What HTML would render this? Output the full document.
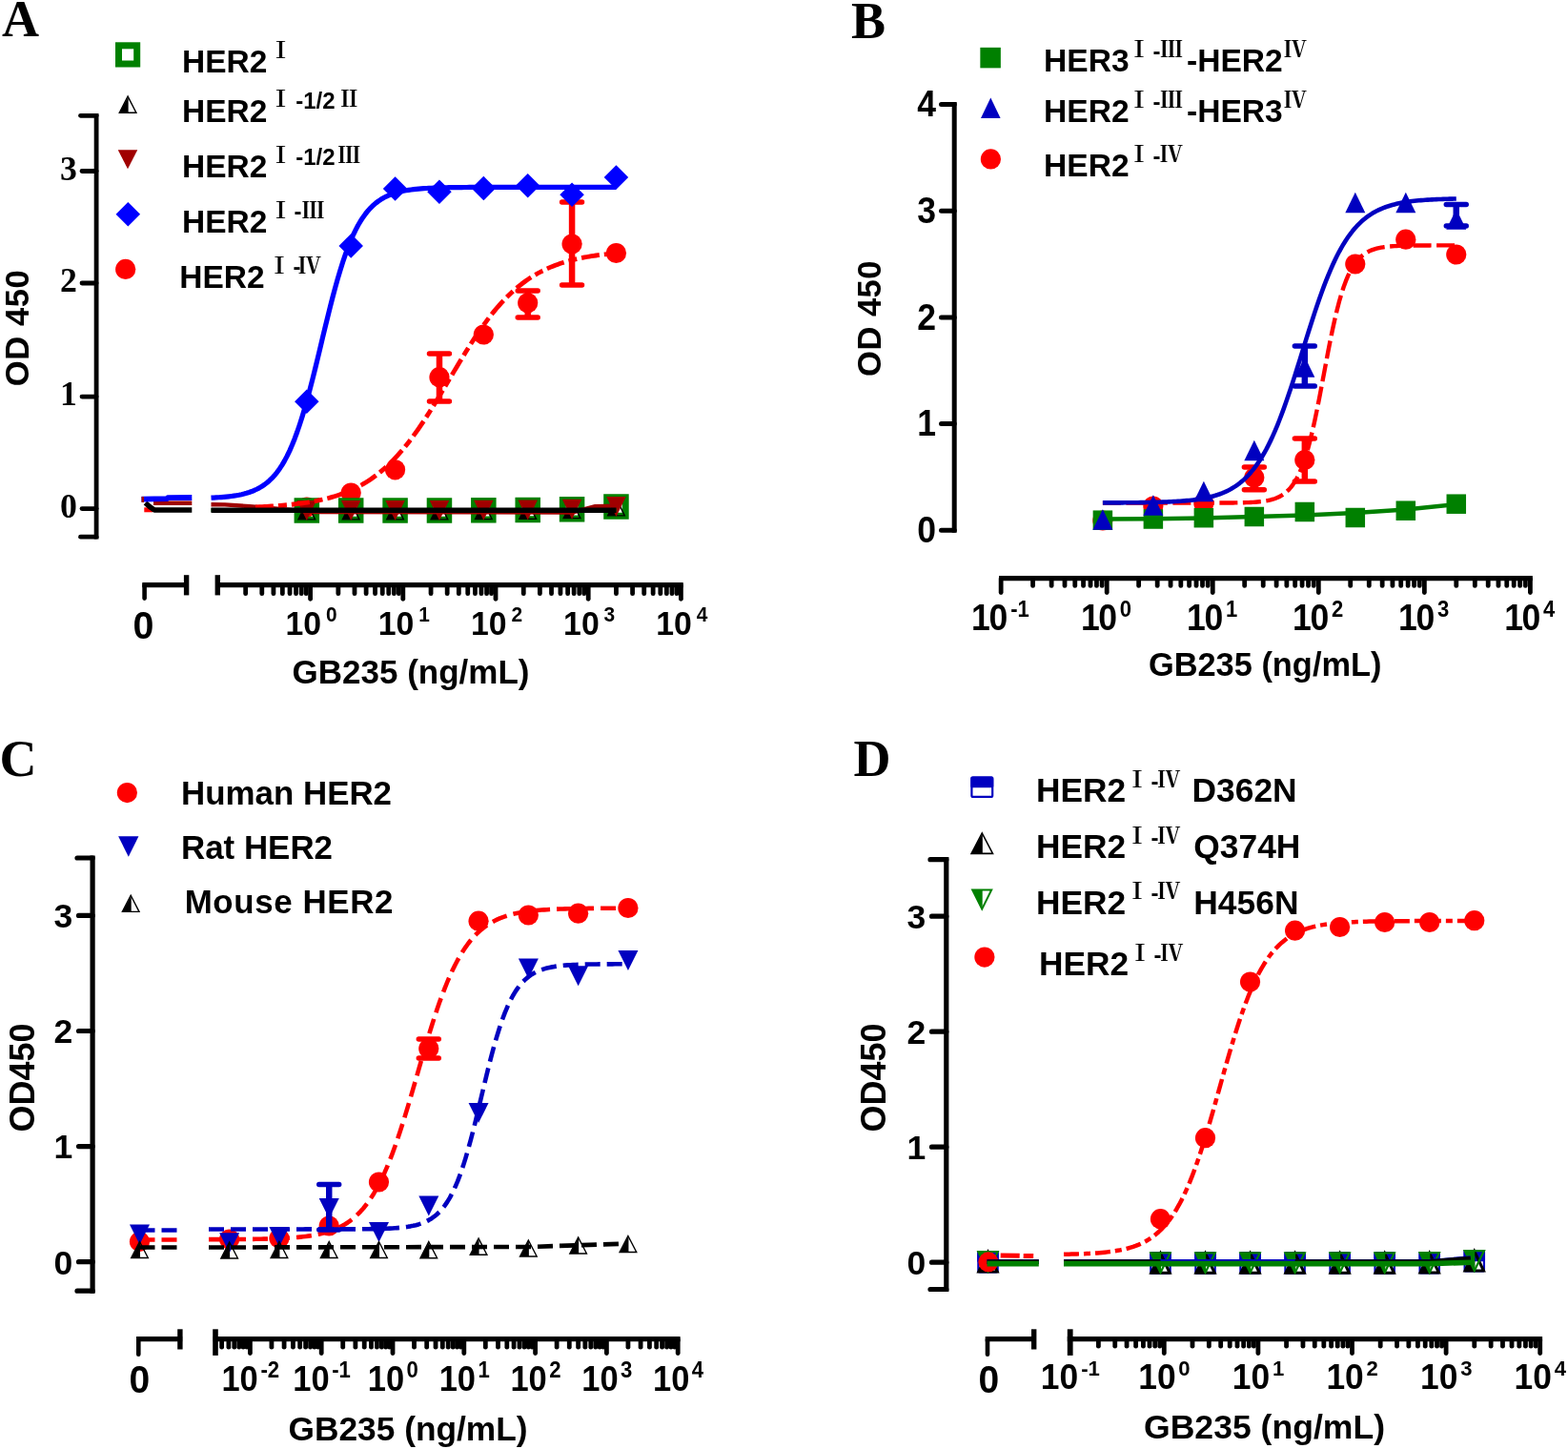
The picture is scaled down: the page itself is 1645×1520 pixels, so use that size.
<!DOCTYPE html>
<html lang="en">
<head>
<meta charset="utf-8">
<title>GB235 binding to HER2 domain constructs</title>
<style>
html,body{margin:0;padding:0;background:#fff;}
body{width:1645px;height:1520px;overflow:hidden;}
svg{display:block;}
text{fill:#000;}
</style>
</head>
<body>
<svg width="1645" height="1520" viewBox="0 0 1645 1520">
<rect width="1645" height="1520" fill="#fff"/>
<g id="panel-a">
<text x="2" y="38.3" font-family="'Liberation Serif','Noto Serif CJK SC',serif" font-size="54" font-weight="bold" text-anchor="start">A</text>
<rect x="124.5" y="47.8" width="19.2" height="19.2" fill="none" stroke="#008000" stroke-width="7" stroke-linejoin="miter"/>
<polygon points="134.1,101.15 142.9,118.25 125.3,118.25" fill="none" stroke="#000000" stroke-width="1.4" stroke-linejoin="miter"/>
<polygon points="134.6,101.15 134.6,118.25 125.3,118.25" fill="#000000"/>
<polygon points="134,177.2 144.25,157.2 123.75,157.2" fill="#a00000"/>
<polygon points="134.3,211.95 147.05,224.7 134.3,237.45 121.55,224.7" fill="#0000ff"/>
<circle cx="131.7" cy="282.4" r="10.6" fill="#ff0000"/>
<text x="191" y="76.1" font-family="'Liberation Sans','Noto Sans CJK SC',sans-serif" font-size="33.5" font-weight="bold" text-anchor="start">HER2</text>
<text x="282.5" y="60.8" font-family="'Liberation Serif','Noto Serif CJK SC',serif" font-size="24" font-weight="700" text-anchor="start">Ⅰ</text>
<text x="191" y="127.7" font-family="'Liberation Sans','Noto Sans CJK SC',sans-serif" font-size="33.5" font-weight="bold" text-anchor="start">HER2</text>
<text x="282.5" y="112.4" font-family="'Liberation Serif','Noto Serif CJK SC',serif" font-size="24" font-weight="700" text-anchor="start">Ⅰ</text>
<text x="191" y="186.4" font-family="'Liberation Sans','Noto Sans CJK SC',sans-serif" font-size="33.5" font-weight="bold" text-anchor="start">HER2</text>
<text x="282.5" y="171.1" font-family="'Liberation Serif','Noto Serif CJK SC',serif" font-size="24" font-weight="700" text-anchor="start">Ⅰ</text>
<text x="191" y="243.8" font-family="'Liberation Sans','Noto Sans CJK SC',sans-serif" font-size="33.5" font-weight="bold" text-anchor="start">HER2</text>
<text x="282.5" y="228.5" font-family="'Liberation Serif','Noto Serif CJK SC',serif" font-size="24" font-weight="700" text-anchor="start">Ⅰ</text>
<text x="310.2" y="114.2" font-family="'Liberation Sans','Noto Sans CJK SC',sans-serif" font-size="24" font-weight="bold" text-anchor="start">-1/2</text>
<text x="354.3" y="112.4" font-family="'Liberation Serif','Noto Serif CJK SC',serif" font-size="24" font-weight="700" text-anchor="start">Ⅱ</text>
<text x="310.2" y="172.9" font-family="'Liberation Sans','Noto Sans CJK SC',sans-serif" font-size="24" font-weight="bold" text-anchor="start">-1/2</text>
<text x="354.3" y="171.1" font-family="'Liberation Serif','Noto Serif CJK SC',serif" font-size="24" font-weight="700" text-anchor="start">Ⅲ</text>
<text x="308.5" y="230.3" font-family="'Liberation Sans','Noto Sans CJK SC',sans-serif" font-size="24" font-weight="bold" text-anchor="start">-</text>
<text x="316.5" y="228.5" font-family="'Liberation Serif','Noto Serif CJK SC',serif" font-size="24" font-weight="700" text-anchor="start">Ⅲ</text>
<text x="188.3" y="301.8" font-family="'Liberation Sans','Noto Sans CJK SC',sans-serif" font-size="33.5" font-weight="bold" text-anchor="start">HER2</text>
<text x="281" y="286.5" font-family="'Liberation Serif','Noto Serif CJK SC',serif" font-size="24" font-weight="700" text-anchor="start">Ⅰ</text>
<text x="307.5" y="288.3" font-family="'Liberation Sans','Noto Sans CJK SC',sans-serif" font-size="24" font-weight="bold" text-anchor="start">-</text>
<text x="313" y="286.5" font-family="'Liberation Serif','Noto Serif CJK SC',serif" font-size="24" font-weight="700" text-anchor="start">Ⅳ</text>
<line x1="600.08" y1="212" x2="600.08" y2="299" stroke="#ff0000" stroke-width="6.5" stroke-linecap="butt"/>
<line x1="589.58" y1="212" x2="610.58" y2="212" stroke="#ff0000" stroke-width="5.4" stroke-linecap="round"/>
<line x1="589.58" y1="299" x2="610.58" y2="299" stroke="#ff0000" stroke-width="5.4" stroke-linecap="round"/>
<line x1="553.71" y1="305" x2="553.71" y2="333" stroke="#ff0000" stroke-width="6.5" stroke-linecap="butt"/>
<line x1="543.21" y1="305" x2="564.21" y2="305" stroke="#ff0000" stroke-width="5.4" stroke-linecap="round"/>
<line x1="543.21" y1="333" x2="564.21" y2="333" stroke="#ff0000" stroke-width="5.4" stroke-linecap="round"/>
<line x1="460.96" y1="371" x2="460.96" y2="421" stroke="#ff0000" stroke-width="6.5" stroke-linecap="butt"/>
<line x1="450.46" y1="371" x2="471.46" y2="371" stroke="#ff0000" stroke-width="5.4" stroke-linecap="round"/>
<line x1="450.46" y1="421" x2="471.46" y2="421" stroke="#ff0000" stroke-width="5.4" stroke-linecap="round"/>
<circle cx="646.46" cy="265.5" r="10.6" fill="#ff0000"/>
<circle cx="600.08" cy="256" r="10.6" fill="#ff0000"/>
<circle cx="553.71" cy="317.8" r="10.6" fill="#ff0000"/>
<circle cx="507.33" cy="351" r="10.6" fill="#ff0000"/>
<circle cx="460.96" cy="395.7" r="10.6" fill="#ff0000"/>
<circle cx="414.58" cy="492.8" r="10.6" fill="#ff0000"/>
<circle cx="368.2" cy="517" r="10.6" fill="#ff0000"/>
<circle cx="321.83" cy="532" r="10.6" fill="#ff0000"/>
<rect x="636.71" y="521.75" width="19.5" height="19.5" fill="none" stroke="#008000" stroke-width="7" stroke-linejoin="miter"/>
<rect x="590.33" y="524.55" width="19.5" height="19.5" fill="none" stroke="#008000" stroke-width="7" stroke-linejoin="miter"/>
<rect x="543.96" y="525.25" width="19.5" height="19.5" fill="none" stroke="#008000" stroke-width="7" stroke-linejoin="miter"/>
<rect x="497.58" y="525.55" width="19.5" height="19.5" fill="none" stroke="#008000" stroke-width="7" stroke-linejoin="miter"/>
<rect x="451.21" y="525.75" width="19.5" height="19.5" fill="none" stroke="#008000" stroke-width="7" stroke-linejoin="miter"/>
<rect x="404.83" y="525.75" width="19.5" height="19.5" fill="none" stroke="#008000" stroke-width="7" stroke-linejoin="miter"/>
<rect x="358.45" y="525.75" width="19.5" height="19.5" fill="none" stroke="#008000" stroke-width="7" stroke-linejoin="miter"/>
<rect x="312.08" y="525.75" width="19.5" height="19.5" fill="none" stroke="#008000" stroke-width="7" stroke-linejoin="miter"/>
<polygon points="646.46,522.75 655.26,540.85 637.66,540.85" fill="none" stroke="#000000" stroke-width="1.4" stroke-linejoin="miter"/>
<polygon points="646.96,522.75 646.96,540.85 637.66,540.85" fill="#000000"/>
<polygon points="600.08,525.55 608.88,543.65 591.28,543.65" fill="none" stroke="#000000" stroke-width="1.4" stroke-linejoin="miter"/>
<polygon points="600.58,525.55 600.58,543.65 591.28,543.65" fill="#000000"/>
<polygon points="553.71,526.25 562.51,544.35 544.91,544.35" fill="none" stroke="#000000" stroke-width="1.4" stroke-linejoin="miter"/>
<polygon points="554.21,526.25 554.21,544.35 544.91,544.35" fill="#000000"/>
<polygon points="507.33,526.55 516.13,544.65 498.53,544.65" fill="none" stroke="#000000" stroke-width="1.4" stroke-linejoin="miter"/>
<polygon points="507.83,526.55 507.83,544.65 498.53,544.65" fill="#000000"/>
<polygon points="460.96,526.75 469.76,544.85 452.16,544.85" fill="none" stroke="#000000" stroke-width="1.4" stroke-linejoin="miter"/>
<polygon points="461.46,526.75 461.46,544.85 452.16,544.85" fill="#000000"/>
<polygon points="414.58,526.75 423.38,544.85 405.78,544.85" fill="none" stroke="#000000" stroke-width="1.4" stroke-linejoin="miter"/>
<polygon points="415.08,526.75 415.08,544.85 405.78,544.85" fill="#000000"/>
<polygon points="368.2,526.75 377,544.85 359.4,544.85" fill="none" stroke="#000000" stroke-width="1.4" stroke-linejoin="miter"/>
<polygon points="368.7,526.75 368.7,544.85 359.4,544.85" fill="#000000"/>
<polygon points="321.83,526.75 330.63,544.85 313.03,544.85" fill="none" stroke="#000000" stroke-width="1.4" stroke-linejoin="miter"/>
<polygon points="322.33,526.75 322.33,544.85 313.03,544.85" fill="#000000"/>
<polygon points="646.46,542 656.71,521 636.21,521" fill="#a00000"/>
<polygon points="600.08,544.8 610.33,523.8 589.83,523.8" fill="#a00000"/>
<polygon points="553.71,545.5 563.96,524.5 543.46,524.5" fill="#a00000"/>
<polygon points="507.33,545.8 517.58,524.8 497.08,524.8" fill="#a00000"/>
<polygon points="460.96,546 471.21,525 450.71,525" fill="#a00000"/>
<polygon points="414.58,546 424.83,525 404.33,525" fill="#a00000"/>
<polygon points="368.2,546 378.45,525 357.95,525" fill="#a00000"/>
<polygon points="321.83,546 332.08,525 311.58,525" fill="#a00000"/>
<path d="M161,527.8 L201.3,527.8" fill="none" stroke="#a00000" stroke-width="4.6" stroke-linecap="butt" stroke-linejoin="round"/>
<path d="M151.3,534.8 L160,534.8" fill="none" stroke="#ff0000" stroke-width="5" stroke-linecap="butt" stroke-linejoin="round"/>
<path d="M152.5,527.5 L157,531.5 L162,535 L201.3,535" fill="none" stroke="#000000" stroke-width="5.4" stroke-linecap="butt" stroke-linejoin="round"/>
<path d="M148.5,523.6 L175,523.2 L176,522.2 L201.3,522" fill="none" stroke="#0000ff" stroke-width="5.8" stroke-linecap="butt" stroke-linejoin="round"/>
<path d="M148.5,524 L151,524" fill="none" stroke="#a00000" stroke-width="6" stroke-linecap="butt" stroke-linejoin="round"/>
<path d="M221.5,535.02 L224.16,535.02 L226.81,535.02 L229.47,535.02 L232.12,535.02 L234.78,535.02 L237.44,535.02 L240.09,535.02 L242.75,535.02 L245.4,535.02 L248.06,535.02 L250.72,535.02 L253.37,535.02 L256.03,535.02 L258.68,535.02 L261.34,535.02 L264,535.02 L266.65,535.02 L269.31,535.02 L271.96,535.02 L274.62,535.02 L277.28,535.02 L279.93,535.02 L282.59,535.02 L285.24,535.02 L287.9,535.02 L290.56,535.02 L293.21,535.02 L295.87,535.02 L298.52,535.02 L301.18,535.02 L303.84,535.02 L306.49,535.02 L309.15,535.02 L311.8,535.02 L314.46,535.02 L317.12,535.02 L319.77,535.02 L322.43,535.02 L325.08,535.02 L327.74,535.02 L330.4,535.02 L333.05,535.02 L335.71,535.02 L338.36,535.02 L341.02,535.02 L343.68,535.02 L346.33,535.02 L348.99,535.02 L351.64,535.02 L354.3,535.02 L356.96,535.02 L359.61,535.02 L362.27,535.02 L364.92,535.02 L367.58,535.02 L370.24,535.02 L372.89,535.02 L375.55,535.02 L378.2,535.02 L380.86,535.02 L383.52,535.02 L386.17,535.02 L388.83,535.02 L391.48,535.02 L394.14,535.02 L396.8,535.02 L399.45,535.02 L402.11,535.02 L404.76,535.02 L407.42,535.02 L410.08,535.02 L412.73,535.02 L415.39,535.02 L418.04,535.02 L420.7,535.02 L423.36,535.02 L426.01,535.02 L428.67,535.02 L431.32,535.02 L433.98,535.02 L436.64,535.02 L439.29,535.02 L441.95,535.02 L444.6,535.02 L447.26,535.02 L449.92,535.02 L452.57,535.02 L455.23,535.02 L457.88,535.02 L460.54,535.02 L463.2,535.02 L465.85,535.02 L468.51,535.02 L471.16,535.02 L473.82,535.02 L476.48,535.02 L479.13,535.02 L481.79,535.02 L484.44,535.02 L487.1,535.02 L489.76,535.02 L492.41,535.02 L495.07,535.02 L497.72,535.02 L500.38,535.02 L503.04,535.02 L505.69,535.02 L508.35,535.02 L511,535.02 L513.66,535.02 L516.32,535.02 L518.97,535.02 L521.63,535.02 L524.28,535.02 L526.94,535.02 L529.6,535.02 L532.25,535.02 L534.91,535.02 L537.56,535.02 L540.22,535.02 L542.88,535.02 L545.53,535.02 L548.19,535.02 L550.84,535.02 L553.5,535.02 L556.16,535.02 L558.81,535.02 L561.47,535.02 L564.12,535.02 L566.78,535.02 L569.44,535.02 L572.09,535.02 L574.75,535.02 L577.4,535.02 L580.06,535.02 L582.72,535.02 L585.37,535.02 L588.03,535.02 L590.68,535.02 L593.34,535.02 L596,535.02 L598.65,535.02 L601.31,535.02 L603.96,535.02 L606.62,535.02 L609.28,535.02 L611.93,535.02 L614.59,535.02 L617.24,535.02 L619.9,535.02 L622.56,535.02 L625.21,535.02 L627.87,535.02 L630.52,535.02 L633.18,535.02 L635.84,535.02 L638.49,535.02 L641.15,535.02 L643.8,535.02 L646.46,535.02" fill="none" stroke="#008000" stroke-width="4" stroke-linecap="butt" stroke-linejoin="round"/>
<path d="M221.5,529.2 L236,529.4 L262,531.2 L300,534.5 L330,537 L600.08,537.6 L624.46,531.2 L646.46,530.6" fill="none" stroke="#a00000" stroke-width="4.4" stroke-linecap="butt" stroke-linejoin="round"/>
<path d="M268,531.89 L270.37,531.78 L272.73,531.68 L275.1,531.56 L277.46,531.44 L279.83,531.31 L282.19,531.17 L284.56,531.02 L286.92,530.87 L289.29,530.7 L291.65,530.53 L294.02,530.35 L296.38,530.15 L298.75,529.95 L301.12,529.73 L303.48,529.5 L305.85,529.25 L308.21,528.99 L310.58,528.72 L312.94,528.43 L315.31,528.12 L317.67,527.8 L320.04,527.45 L322.4,527.09 L324.77,526.71 L327.13,526.3 L329.5,525.87 L331.87,525.42 L334.23,524.94 L336.6,524.43 L338.96,523.89 L341.33,523.33 L343.69,522.73 L346.06,522.1 L348.42,521.43 L350.79,520.73 L353.15,519.99 L355.52,519.21 L357.88,518.38 L360.25,517.52 L362.62,516.6 L364.98,515.64 L367.35,514.63 L369.71,513.56 L372.08,512.44 L374.44,511.27 L376.81,510.03 L379.17,508.73 L381.54,507.37 L383.9,505.95 L386.27,504.45 L388.63,502.88 L391,501.24 L393.36,499.53 L395.73,497.74 L398.1,495.87 L400.46,493.91 L402.83,491.88 L405.19,489.76 L407.56,487.55 L409.92,485.26 L412.29,482.88 L414.65,480.41 L417.02,477.84 L419.38,475.19 L421.75,472.45 L424.11,469.62 L426.48,466.7 L428.85,463.69 L431.21,460.59 L433.58,457.41 L435.94,454.14 L438.31,450.8 L440.67,447.37 L443.04,443.88 L445.4,440.31 L447.77,436.67 L450.13,432.98 L452.5,429.22 L454.86,425.42 L457.23,421.57 L459.6,417.68 L461.96,413.76 L464.33,409.81 L466.69,405.84 L469.06,401.85 L471.42,397.86 L473.79,393.87 L476.15,389.89 L478.52,385.92 L480.88,381.97 L483.25,378.05 L485.61,374.16 L487.98,370.31 L490.35,366.51 L492.71,362.75 L495.08,359.06 L497.44,355.43 L499.81,351.86 L502.17,348.36 L504.54,344.94 L506.9,341.59 L509.27,338.33 L511.63,335.15 L514,332.05 L516.36,329.05 L518.73,326.13 L521.1,323.3 L523.46,320.56 L525.83,317.91 L528.19,315.35 L530.56,312.88 L532.92,310.5 L535.29,308.2 L537.65,306 L540.02,303.88 L542.38,301.85 L544.75,299.9 L547.11,298.03 L549.48,296.24 L551.85,294.52 L554.21,292.89 L556.58,291.32 L558.94,289.83 L561.31,288.4 L563.67,287.04 L566.04,285.74 L568.4,284.51 L570.77,283.33 L573.13,282.22 L575.5,281.15 L577.86,280.14 L580.23,279.18 L582.59,278.27 L584.96,277.4 L587.33,276.58 L589.69,275.8 L592.06,275.06 L594.42,274.36 L596.79,273.69 L599.15,273.06 L601.52,272.46 L603.88,271.9 L606.25,271.36 L608.61,270.86 L610.98,270.38 L613.34,269.92 L615.71,269.49 L618.08,269.09 L620.44,268.7 L622.81,268.34 L625.17,268 L627.54,267.67 L629.9,267.36 L632.27,267.07 L634.63,266.8 L637,266.54 L639.36,266.3 L641.73,266.07 L644.09,265.85 L646.46,265.64" fill="none" stroke="#ff0000" stroke-width="4.8" stroke-linecap="butt" stroke-linejoin="round" stroke-dasharray="19 5 9 5"/>
<path d="M221.5,535.2 L646.46,535.2" fill="none" stroke="#000000" stroke-width="5.6" stroke-linecap="butt" stroke-linejoin="round"/>
<path d="M221.5,522.22 L224.16,522.09 L226.81,521.95 L229.47,521.78 L232.12,521.59 L234.78,521.37 L237.44,521.12 L240.09,520.84 L242.75,520.51 L245.4,520.14 L248.06,519.71 L250.72,519.23 L253.37,518.67 L256.03,518.04 L258.68,517.31 L261.34,516.49 L264,515.55 L266.65,514.48 L269.31,513.26 L271.96,511.88 L274.62,510.31 L277.28,508.53 L279.93,506.51 L282.59,504.24 L285.24,501.67 L287.9,498.79 L290.56,495.55 L293.21,491.92 L295.87,487.87 L298.52,483.36 L301.18,478.37 L303.84,472.86 L306.49,466.81 L309.15,460.19 L311.8,453 L314.46,445.23 L317.12,436.88 L319.77,427.98 L322.43,418.57 L325.08,408.68 L327.74,398.38 L330.4,387.75 L333.05,376.86 L335.71,365.82 L338.36,354.72 L341.02,343.67 L343.68,332.77 L346.33,322.11 L348.99,311.77 L351.64,301.84 L354.3,292.37 L356.96,283.42 L359.61,275.02 L362.27,267.19 L364.92,259.94 L367.58,253.27 L370.24,247.16 L372.89,241.6 L375.55,236.56 L378.2,232.01 L380.86,227.92 L383.52,224.25 L386.17,220.97 L388.83,218.05 L391.48,215.45 L394.14,213.15 L396.8,211.11 L399.45,209.31 L402.11,207.72 L404.76,206.32 L407.42,205.09 L410.08,204.01 L412.73,203.05 L415.39,202.22 L418.04,201.49 L420.7,200.84 L423.36,200.28 L426.01,199.79 L428.67,199.35 L431.32,198.98 L433.98,198.65 L436.64,198.36 L439.29,198.1 L441.95,197.88 L444.6,197.69 L447.26,197.52 L449.92,197.37 L452.57,197.24 L455.23,197.13 L457.88,197.03 L460.54,196.95 L463.2,196.87 L465.85,196.81 L468.51,196.75 L471.16,196.7 L473.82,196.66 L476.48,196.62 L479.13,196.58 L481.79,196.56 L484.44,196.53 L487.1,196.51 L489.76,196.49 L492.41,196.47 L495.07,196.46 L497.72,196.44 L500.38,196.43 L503.04,196.42 L505.69,196.41 L508.35,196.41 L511,196.4 L513.66,196.4 L516.32,196.39 L518.97,196.39 L521.63,196.38 L524.28,196.38 L526.94,196.38 L529.6,196.37 L532.25,196.37 L534.91,196.37 L537.56,196.37 L540.22,196.37 L542.88,196.36 L545.53,196.36 L548.19,196.36 L550.84,196.36 L553.5,196.36 L556.16,196.36 L558.81,196.36 L561.47,196.36 L564.12,196.36 L566.78,196.36 L569.44,196.36 L572.09,196.36 L574.75,196.36 L577.4,196.36 L580.06,196.36 L582.72,196.36 L585.37,196.36 L588.03,196.36 L590.68,196.36 L593.34,196.36 L596,196.36 L598.65,196.36 L601.31,196.36 L603.96,196.36 L606.62,196.36 L609.28,196.36 L611.93,196.36 L614.59,196.36 L617.24,196.36 L619.9,196.36 L622.56,196.36 L625.21,196.36 L627.87,196.36 L630.52,196.36 L633.18,196.36 L635.84,196.36 L638.49,196.36 L641.15,196.36 L643.8,196.36 L646.46,196.36" fill="none" stroke="#0000ff" stroke-width="5.2" stroke-linecap="butt" stroke-linejoin="round"/>
<polygon points="646.46,173.15 659.21,185.9 646.46,198.65 633.71,185.9" fill="#0000ff"/>
<polygon points="600.08,191.45 612.83,204.2 600.08,216.95 587.33,204.2" fill="#0000ff"/>
<polygon points="553.71,182.05 566.46,194.8 553.71,207.55 540.96,194.8" fill="#0000ff"/>
<polygon points="507.33,184.85 520.08,197.6 507.33,210.35 494.58,197.6" fill="#0000ff"/>
<polygon points="460.96,188.45 473.71,201.2 460.96,213.95 448.21,201.2" fill="#0000ff"/>
<polygon points="414.58,185.35 427.33,198.1 414.58,210.85 401.83,198.1" fill="#0000ff"/>
<polygon points="368.2,245.15 380.95,257.9 368.2,270.65 355.45,257.9" fill="#0000ff"/>
<polygon points="321.83,408.55 334.58,421.3 321.83,434.05 309.08,421.3" fill="#0000ff"/>
<line x1="101.1" y1="118.9" x2="101.1" y2="565.6" stroke="#000000" stroke-width="4.8" stroke-linecap="butt"/>
<line x1="84.5" y1="121.3" x2="101.1" y2="121.3" stroke="#000000" stroke-width="4.8" stroke-linecap="round"/>
<line x1="84.5" y1="563.2" x2="101.1" y2="563.2" stroke="#000000" stroke-width="4.8" stroke-linecap="round"/>
<line x1="86" y1="533.6" x2="101.1" y2="533.6" stroke="#000000" stroke-width="4.8" stroke-linecap="round"/>
<text x="80.8" y="542.8" font-family="'Liberation Serif','Noto Serif CJK SC',serif" font-size="35.7" font-weight="bold" text-anchor="end">0</text>
<line x1="86" y1="416.1" x2="101.1" y2="416.1" stroke="#000000" stroke-width="4.8" stroke-linecap="round"/>
<text x="80.8" y="425.3" font-family="'Liberation Serif','Noto Serif CJK SC',serif" font-size="35.7" font-weight="bold" text-anchor="end">1</text>
<line x1="86" y1="297" x2="101.1" y2="297" stroke="#000000" stroke-width="4.8" stroke-linecap="round"/>
<text x="80.8" y="306.2" font-family="'Liberation Serif','Noto Serif CJK SC',serif" font-size="35.7" font-weight="bold" text-anchor="end">2</text>
<line x1="86" y1="179.5" x2="101.1" y2="179.5" stroke="#000000" stroke-width="4.8" stroke-linecap="round"/>
<text x="80.8" y="188.7" font-family="'Liberation Serif','Noto Serif CJK SC',serif" font-size="35.7" font-weight="bold" text-anchor="end">3</text>
<text transform="translate(29.6,344) rotate(-90)" font-family="'Liberation Sans','Noto Sans CJK SC',sans-serif" font-size="34.5" font-weight="bold" text-anchor="middle" letter-spacing="0.6">OD 450</text>
<line x1="149.3" y1="613.6" x2="197.9" y2="613.6" stroke="#000000" stroke-width="5.2" stroke-linecap="butt"/>
<line x1="151.6" y1="613.6" x2="151.6" y2="627.6" stroke="#000000" stroke-width="4.6" stroke-linecap="round"/>
<line x1="195.6" y1="603.2" x2="195.6" y2="624.4" stroke="#000000" stroke-width="5.4" stroke-linecap="butt"/>
<line x1="228.3" y1="603.2" x2="228.3" y2="624.4" stroke="#000000" stroke-width="5.4" stroke-linecap="butt"/>
<line x1="226" y1="613.6" x2="716.7" y2="613.6" stroke="#000000" stroke-width="5.2" stroke-linecap="butt"/>
<line x1="325.6" y1="613.6" x2="325.6" y2="628.3" stroke="#000000" stroke-width="4.8" stroke-linecap="round"/>
<line x1="354.86" y1="613.6" x2="354.86" y2="622.7" stroke="#000000" stroke-width="4.8" stroke-linecap="round"/>
<line x1="371.98" y1="613.6" x2="371.98" y2="622.7" stroke="#000000" stroke-width="4.8" stroke-linecap="round"/>
<line x1="384.12" y1="613.6" x2="384.12" y2="622.7" stroke="#000000" stroke-width="4.8" stroke-linecap="round"/>
<line x1="393.54" y1="613.6" x2="393.54" y2="622.7" stroke="#000000" stroke-width="4.8" stroke-linecap="round"/>
<line x1="401.24" y1="613.6" x2="401.24" y2="622.7" stroke="#000000" stroke-width="4.8" stroke-linecap="round"/>
<line x1="407.74" y1="613.6" x2="407.74" y2="622.7" stroke="#000000" stroke-width="4.8" stroke-linecap="round"/>
<line x1="413.38" y1="613.6" x2="413.38" y2="622.7" stroke="#000000" stroke-width="4.8" stroke-linecap="round"/>
<line x1="418.35" y1="613.6" x2="418.35" y2="622.7" stroke="#000000" stroke-width="4.8" stroke-linecap="round"/>
<line x1="422.8" y1="613.6" x2="422.8" y2="628.3" stroke="#000000" stroke-width="4.8" stroke-linecap="round"/>
<line x1="452.06" y1="613.6" x2="452.06" y2="622.7" stroke="#000000" stroke-width="4.8" stroke-linecap="round"/>
<line x1="469.18" y1="613.6" x2="469.18" y2="622.7" stroke="#000000" stroke-width="4.8" stroke-linecap="round"/>
<line x1="481.32" y1="613.6" x2="481.32" y2="622.7" stroke="#000000" stroke-width="4.8" stroke-linecap="round"/>
<line x1="490.74" y1="613.6" x2="490.74" y2="622.7" stroke="#000000" stroke-width="4.8" stroke-linecap="round"/>
<line x1="498.44" y1="613.6" x2="498.44" y2="622.7" stroke="#000000" stroke-width="4.8" stroke-linecap="round"/>
<line x1="504.94" y1="613.6" x2="504.94" y2="622.7" stroke="#000000" stroke-width="4.8" stroke-linecap="round"/>
<line x1="510.58" y1="613.6" x2="510.58" y2="622.7" stroke="#000000" stroke-width="4.8" stroke-linecap="round"/>
<line x1="515.55" y1="613.6" x2="515.55" y2="622.7" stroke="#000000" stroke-width="4.8" stroke-linecap="round"/>
<line x1="520" y1="613.6" x2="520" y2="628.3" stroke="#000000" stroke-width="4.8" stroke-linecap="round"/>
<line x1="549.26" y1="613.6" x2="549.26" y2="622.7" stroke="#000000" stroke-width="4.8" stroke-linecap="round"/>
<line x1="566.38" y1="613.6" x2="566.38" y2="622.7" stroke="#000000" stroke-width="4.8" stroke-linecap="round"/>
<line x1="578.52" y1="613.6" x2="578.52" y2="622.7" stroke="#000000" stroke-width="4.8" stroke-linecap="round"/>
<line x1="587.94" y1="613.6" x2="587.94" y2="622.7" stroke="#000000" stroke-width="4.8" stroke-linecap="round"/>
<line x1="595.64" y1="613.6" x2="595.64" y2="622.7" stroke="#000000" stroke-width="4.8" stroke-linecap="round"/>
<line x1="602.14" y1="613.6" x2="602.14" y2="622.7" stroke="#000000" stroke-width="4.8" stroke-linecap="round"/>
<line x1="607.78" y1="613.6" x2="607.78" y2="622.7" stroke="#000000" stroke-width="4.8" stroke-linecap="round"/>
<line x1="612.75" y1="613.6" x2="612.75" y2="622.7" stroke="#000000" stroke-width="4.8" stroke-linecap="round"/>
<line x1="617.2" y1="613.6" x2="617.2" y2="628.3" stroke="#000000" stroke-width="4.8" stroke-linecap="round"/>
<line x1="646.46" y1="613.6" x2="646.46" y2="622.7" stroke="#000000" stroke-width="4.8" stroke-linecap="round"/>
<line x1="663.58" y1="613.6" x2="663.58" y2="622.7" stroke="#000000" stroke-width="4.8" stroke-linecap="round"/>
<line x1="675.72" y1="613.6" x2="675.72" y2="622.7" stroke="#000000" stroke-width="4.8" stroke-linecap="round"/>
<line x1="685.14" y1="613.6" x2="685.14" y2="622.7" stroke="#000000" stroke-width="4.8" stroke-linecap="round"/>
<line x1="692.84" y1="613.6" x2="692.84" y2="622.7" stroke="#000000" stroke-width="4.8" stroke-linecap="round"/>
<line x1="699.34" y1="613.6" x2="699.34" y2="622.7" stroke="#000000" stroke-width="4.8" stroke-linecap="round"/>
<line x1="704.98" y1="613.6" x2="704.98" y2="622.7" stroke="#000000" stroke-width="4.8" stroke-linecap="round"/>
<line x1="709.95" y1="613.6" x2="709.95" y2="622.7" stroke="#000000" stroke-width="4.8" stroke-linecap="round"/>
<line x1="714.4" y1="613.6" x2="714.4" y2="628.3" stroke="#000000" stroke-width="4.8" stroke-linecap="round"/>
<line x1="257.66" y1="613.6" x2="257.66" y2="622.7" stroke="#000000" stroke-width="4.8" stroke-linecap="round"/>
<line x1="274.78" y1="613.6" x2="274.78" y2="622.7" stroke="#000000" stroke-width="4.8" stroke-linecap="round"/>
<line x1="286.92" y1="613.6" x2="286.92" y2="622.7" stroke="#000000" stroke-width="4.8" stroke-linecap="round"/>
<line x1="296.34" y1="613.6" x2="296.34" y2="622.7" stroke="#000000" stroke-width="4.8" stroke-linecap="round"/>
<line x1="304.04" y1="613.6" x2="304.04" y2="622.7" stroke="#000000" stroke-width="4.8" stroke-linecap="round"/>
<line x1="310.54" y1="613.6" x2="310.54" y2="622.7" stroke="#000000" stroke-width="4.8" stroke-linecap="round"/>
<line x1="316.18" y1="613.6" x2="316.18" y2="622.7" stroke="#000000" stroke-width="4.8" stroke-linecap="round"/>
<line x1="321.15" y1="613.6" x2="321.15" y2="622.7" stroke="#000000" stroke-width="4.8" stroke-linecap="round"/>
<g transform="translate(150.4,669.6) scale(0.95,1)">
<text x="0" y="0" font-family="'Liberation Sans','Noto Sans CJK SC',sans-serif" font-size="41.5" font-weight="bold" text-anchor="middle">0</text>
</g>
<g transform="translate(299.51,665.6) scale(0.95,1)">
<text x="0" y="0" font-family="'Liberation Sans','Noto Sans CJK SC',sans-serif" font-size="35.6" font-weight="bold" text-anchor="start">10</text>
</g>
<g transform="translate(341.99,652) scale(0.95,1)">
<text x="0" y="0" font-family="'Liberation Sans','Noto Sans CJK SC',sans-serif" font-size="22" font-weight="bold" text-anchor="start">0</text>
</g>
<g transform="translate(396.71,665.6) scale(0.95,1)">
<text x="0" y="0" font-family="'Liberation Sans','Noto Sans CJK SC',sans-serif" font-size="35.6" font-weight="bold" text-anchor="start">10</text>
</g>
<g transform="translate(439.19,652) scale(0.95,1)">
<text x="0" y="0" font-family="'Liberation Sans','Noto Sans CJK SC',sans-serif" font-size="22" font-weight="bold" text-anchor="start">1</text>
</g>
<g transform="translate(493.91,665.6) scale(0.95,1)">
<text x="0" y="0" font-family="'Liberation Sans','Noto Sans CJK SC',sans-serif" font-size="35.6" font-weight="bold" text-anchor="start">10</text>
</g>
<g transform="translate(536.39,652) scale(0.95,1)">
<text x="0" y="0" font-family="'Liberation Sans','Noto Sans CJK SC',sans-serif" font-size="22" font-weight="bold" text-anchor="start">2</text>
</g>
<g transform="translate(591.11,665.6) scale(0.95,1)">
<text x="0" y="0" font-family="'Liberation Sans','Noto Sans CJK SC',sans-serif" font-size="35.6" font-weight="bold" text-anchor="start">10</text>
</g>
<g transform="translate(633.59,652) scale(0.95,1)">
<text x="0" y="0" font-family="'Liberation Sans','Noto Sans CJK SC',sans-serif" font-size="22" font-weight="bold" text-anchor="start">3</text>
</g>
<g transform="translate(688.31,665.6) scale(0.95,1)">
<text x="0" y="0" font-family="'Liberation Sans','Noto Sans CJK SC',sans-serif" font-size="35.6" font-weight="bold" text-anchor="start">10</text>
</g>
<g transform="translate(730.79,652) scale(0.95,1)">
<text x="0" y="0" font-family="'Liberation Sans','Noto Sans CJK SC',sans-serif" font-size="22" font-weight="bold" text-anchor="start">4</text>
</g>
<text x="431" y="717.3" font-family="'Liberation Sans','Noto Sans CJK SC',sans-serif" font-size="35" font-weight="bold" text-anchor="middle">GB235 (ng/mL)</text>
</g>
<g id="panel-b">
<text x="893" y="39.5" font-family="'Liberation Serif','Noto Serif CJK SC',serif" font-size="54" font-weight="bold" text-anchor="start">B</text>
<rect x="1028.35" y="49.85" width="21.5" height="21.5" fill="#008000"/>
<polygon points="1039.3,102.4 1049.6,124 1029,124" fill="#0000c0"/>
<circle cx="1039.4" cy="166.9" r="10.6" fill="#ff0000"/>
<text x="1095" y="74.6" font-family="'Liberation Sans','Noto Sans CJK SC',sans-serif" font-size="33.6" font-weight="bold" text-anchor="start">HER3</text>
<text x="1095" y="128.3" font-family="'Liberation Sans','Noto Sans CJK SC',sans-serif" font-size="33.6" font-weight="bold" text-anchor="start">HER2</text>
<text x="1095" y="185.3" font-family="'Liberation Sans','Noto Sans CJK SC',sans-serif" font-size="33.6" font-weight="bold" text-anchor="start">HER2</text>
<text x="1183" y="59.7" font-family="'Liberation Serif','Noto Serif CJK SC',serif" font-size="24" font-weight="700" text-anchor="start">Ⅰ</text>
<text x="1209.5" y="61.5" font-family="'Liberation Sans','Noto Sans CJK SC',sans-serif" font-size="24" font-weight="bold" text-anchor="start">-</text>
<text x="1183" y="113.4" font-family="'Liberation Serif','Noto Serif CJK SC',serif" font-size="24" font-weight="700" text-anchor="start">Ⅰ</text>
<text x="1209.5" y="115.2" font-family="'Liberation Sans','Noto Sans CJK SC',sans-serif" font-size="24" font-weight="bold" text-anchor="start">-</text>
<text x="1183" y="170.4" font-family="'Liberation Serif','Noto Serif CJK SC',serif" font-size="24" font-weight="700" text-anchor="start">Ⅰ</text>
<text x="1209.5" y="172.2" font-family="'Liberation Sans','Noto Sans CJK SC',sans-serif" font-size="24" font-weight="bold" text-anchor="start">-</text>
<text x="1217" y="59.7" font-family="'Liberation Serif','Noto Serif CJK SC',serif" font-size="24" font-weight="700" text-anchor="start">Ⅲ</text>
<text x="1217" y="113.4" font-family="'Liberation Serif','Noto Serif CJK SC',serif" font-size="24" font-weight="700" text-anchor="start">Ⅲ</text>
<text x="1217" y="170.4" font-family="'Liberation Serif','Noto Serif CJK SC',serif" font-size="24" font-weight="700" text-anchor="start">Ⅳ</text>
<text x="1245" y="74.6" font-family="'Liberation Sans','Noto Sans CJK SC',sans-serif" font-size="33.6" font-weight="bold" text-anchor="start">-HER2</text>
<text x="1245" y="128.3" font-family="'Liberation Sans','Noto Sans CJK SC',sans-serif" font-size="33.6" font-weight="bold" text-anchor="start">-HER3</text>
<text x="1347" y="59.7" font-family="'Liberation Serif','Noto Serif CJK SC',serif" font-size="24" font-weight="700" text-anchor="start">Ⅳ</text>
<text x="1347" y="113.4" font-family="'Liberation Serif','Noto Serif CJK SC',serif" font-size="24" font-weight="700" text-anchor="start">Ⅳ</text>
<line x1="1368.83" y1="460" x2="1368.83" y2="505" stroke="#ff0000" stroke-width="6.5" stroke-linecap="butt"/>
<line x1="1358.33" y1="460" x2="1379.33" y2="460" stroke="#ff0000" stroke-width="5.4" stroke-linecap="round"/>
<line x1="1358.33" y1="505" x2="1379.33" y2="505" stroke="#ff0000" stroke-width="5.4" stroke-linecap="round"/>
<line x1="1315.84" y1="490" x2="1315.84" y2="513.7" stroke="#ff0000" stroke-width="6.5" stroke-linecap="butt"/>
<line x1="1305.34" y1="490" x2="1326.34" y2="490" stroke="#ff0000" stroke-width="5.4" stroke-linecap="round"/>
<line x1="1305.34" y1="513.7" x2="1326.34" y2="513.7" stroke="#ff0000" stroke-width="5.4" stroke-linecap="round"/>
<circle cx="1527.78" cy="267" r="10.6" fill="#ff0000"/>
<circle cx="1474.8" cy="251.2" r="10.6" fill="#ff0000"/>
<circle cx="1421.81" cy="277" r="10.6" fill="#ff0000"/>
<circle cx="1368.83" cy="482.5" r="10.6" fill="#ff0000"/>
<circle cx="1315.84" cy="501" r="10.6" fill="#ff0000"/>
<circle cx="1262.86" cy="528" r="10.6" fill="#ff0000"/>
<circle cx="1209.87" cy="531" r="10.6" fill="#ff0000"/>
<circle cx="1156.89" cy="546" r="10.6" fill="#ff0000"/>
<path d="M1156.89,527.59 L1159.21,527.59 L1161.53,527.59 L1163.84,527.59 L1166.16,527.59 L1168.48,527.59 L1170.8,527.59 L1173.12,527.59 L1175.43,527.59 L1177.75,527.59 L1180.07,527.59 L1182.39,527.59 L1184.71,527.59 L1187.02,527.59 L1189.34,527.59 L1191.66,527.59 L1193.98,527.59 L1196.3,527.59 L1198.61,527.59 L1200.93,527.59 L1203.25,527.59 L1205.57,527.59 L1207.89,527.59 L1210.2,527.59 L1212.52,527.59 L1214.84,527.59 L1217.16,527.59 L1219.48,527.59 L1221.79,527.59 L1224.11,527.59 L1226.43,527.59 L1228.75,527.59 L1231.07,527.59 L1233.39,527.59 L1235.7,527.59 L1238.02,527.59 L1240.34,527.59 L1242.66,527.59 L1244.98,527.59 L1247.29,527.59 L1249.61,527.59 L1251.93,527.59 L1254.25,527.59 L1256.57,527.59 L1258.88,527.58 L1261.2,527.58 L1263.52,527.58 L1265.84,527.58 L1268.16,527.57 L1270.47,527.57 L1272.79,527.57 L1275.11,527.56 L1277.43,527.55 L1279.75,527.55 L1282.06,527.54 L1284.38,527.52 L1286.7,527.51 L1289.02,527.49 L1291.34,527.47 L1293.65,527.45 L1295.97,527.42 L1298.29,527.39 L1300.61,527.34 L1302.93,527.29 L1305.25,527.23 L1307.56,527.16 L1309.88,527.08 L1312.2,526.97 L1314.52,526.85 L1316.84,526.7 L1319.15,526.52 L1321.47,526.3 L1323.79,526.04 L1326.11,525.73 L1328.43,525.36 L1330.74,524.91 L1333.06,524.38 L1335.38,523.74 L1337.7,522.97 L1340.02,522.06 L1342.33,520.97 L1344.65,519.68 L1346.97,518.14 L1349.29,516.32 L1351.61,514.16 L1353.92,511.61 L1356.24,508.61 L1358.56,505.11 L1360.88,501.02 L1363.2,496.28 L1365.51,490.83 L1367.83,484.6 L1370.15,477.54 L1372.47,469.62 L1374.79,460.82 L1377.11,451.17 L1379.42,440.72 L1381.74,429.56 L1384.06,417.83 L1386.38,405.69 L1388.7,393.33 L1391.01,380.96 L1393.33,368.77 L1395.65,356.98 L1397.97,345.73 L1400.29,335.18 L1402.6,325.42 L1404.92,316.5 L1407.24,308.46 L1409.56,301.29 L1411.88,294.95 L1414.19,289.4 L1416.51,284.57 L1418.83,280.4 L1421.15,276.82 L1423.47,273.75 L1425.78,271.15 L1428.1,268.94 L1430.42,267.07 L1432.74,265.5 L1435.06,264.17 L1437.37,263.06 L1439.69,262.12 L1442.01,261.34 L1444.33,260.69 L1446.65,260.14 L1448.97,259.68 L1451.28,259.3 L1453.6,258.98 L1455.92,258.72 L1458.24,258.5 L1460.56,258.31 L1462.87,258.16 L1465.19,258.03 L1467.51,257.92 L1469.83,257.83 L1472.15,257.76 L1474.46,257.7 L1476.78,257.65 L1479.1,257.6 L1481.42,257.57 L1483.74,257.54 L1486.05,257.51 L1488.37,257.49 L1490.69,257.48 L1493.01,257.46 L1495.33,257.45 L1497.64,257.44 L1499.96,257.43 L1502.28,257.42 L1504.6,257.42 L1506.92,257.41 L1509.23,257.41 L1511.55,257.41 L1513.87,257.4 L1516.19,257.4 L1518.51,257.4 L1520.83,257.4 L1523.14,257.4 L1525.46,257.4 L1527.78,257.4" fill="none" stroke="#ff0000" stroke-width="4.4" stroke-linecap="butt" stroke-linejoin="round" stroke-dasharray="19 5.5"/>
<path d="M1156.89,544.5 L1209.87,544.3 L1262.86,543.5 L1315.84,542 L1368.83,540.5 L1421.81,538 L1474.8,534.5 L1527.78,529" fill="none" stroke="#008000" stroke-width="4.4" stroke-linecap="butt" stroke-linejoin="round"/>
<rect x="1517.53" y="518.45" width="20.5" height="20.5" fill="#008000"/>
<rect x="1464.55" y="525.45" width="20.5" height="20.5" fill="#008000"/>
<rect x="1411.56" y="532.75" width="20.5" height="20.5" fill="#008000"/>
<rect x="1358.58" y="526.75" width="20.5" height="20.5" fill="#008000"/>
<rect x="1305.59" y="531.75" width="20.5" height="20.5" fill="#008000"/>
<rect x="1252.61" y="532.95" width="20.5" height="20.5" fill="#008000"/>
<rect x="1199.62" y="534.25" width="20.5" height="20.5" fill="#008000"/>
<rect x="1146.64" y="535.45" width="20.5" height="20.5" fill="#008000"/>
<line x1="1527.78" y1="214.5" x2="1527.78" y2="237" stroke="#0000c0" stroke-width="6.5" stroke-linecap="butt"/>
<line x1="1517.28" y1="214.5" x2="1538.28" y2="214.5" stroke="#0000c0" stroke-width="5.4" stroke-linecap="round"/>
<line x1="1517.28" y1="237" x2="1538.28" y2="237" stroke="#0000c0" stroke-width="5.4" stroke-linecap="round"/>
<line x1="1368.83" y1="363" x2="1368.83" y2="405" stroke="#0000c0" stroke-width="6.5" stroke-linecap="butt"/>
<line x1="1358.33" y1="363" x2="1379.33" y2="363" stroke="#0000c0" stroke-width="5.4" stroke-linecap="round"/>
<line x1="1358.33" y1="405" x2="1379.33" y2="405" stroke="#0000c0" stroke-width="5.4" stroke-linecap="round"/>
<path d="M1156.89,527.42 L1159.21,527.41 L1161.53,527.4 L1163.84,527.39 L1166.16,527.39 L1168.48,527.38 L1170.8,527.37 L1173.12,527.35 L1175.43,527.34 L1177.75,527.33 L1180.07,527.31 L1182.39,527.3 L1184.71,527.28 L1187.02,527.26 L1189.34,527.24 L1191.66,527.21 L1193.98,527.18 L1196.3,527.16 L1198.61,527.12 L1200.93,527.09 L1203.25,527.05 L1205.57,527.01 L1207.89,526.96 L1210.2,526.91 L1212.52,526.85 L1214.84,526.79 L1217.16,526.73 L1219.48,526.65 L1221.79,526.57 L1224.11,526.48 L1226.43,526.38 L1228.75,526.28 L1231.07,526.16 L1233.39,526.03 L1235.7,525.89 L1238.02,525.73 L1240.34,525.56 L1242.66,525.37 L1244.98,525.16 L1247.29,524.94 L1249.61,524.69 L1251.93,524.42 L1254.25,524.12 L1256.57,523.8 L1258.88,523.44 L1261.2,523.05 L1263.52,522.62 L1265.84,522.15 L1268.16,521.63 L1270.47,521.07 L1272.79,520.45 L1275.11,519.78 L1277.43,519.04 L1279.75,518.24 L1282.06,517.36 L1284.38,516.4 L1286.7,515.35 L1289.02,514.21 L1291.34,512.96 L1293.65,511.61 L1295.97,510.13 L1298.29,508.53 L1300.61,506.79 L1302.93,504.9 L1305.25,502.85 L1307.56,500.63 L1309.88,498.24 L1312.2,495.65 L1314.52,492.86 L1316.84,489.86 L1319.15,486.64 L1321.47,483.18 L1323.79,479.48 L1326.11,475.53 L1328.43,471.33 L1330.74,466.86 L1333.06,462.12 L1335.38,457.11 L1337.7,451.83 L1340.02,446.29 L1342.33,440.48 L1344.65,434.42 L1346.97,428.13 L1349.29,421.6 L1351.61,414.86 L1353.92,407.94 L1356.24,400.85 L1358.56,393.62 L1360.88,386.28 L1363.2,378.86 L1365.51,371.39 L1367.83,363.91 L1370.15,356.44 L1372.47,349.02 L1374.79,341.69 L1377.11,334.46 L1379.42,327.37 L1381.74,320.45 L1384.06,313.72 L1386.38,307.2 L1388.7,300.91 L1391.01,294.86 L1393.33,289.06 L1395.65,283.52 L1397.97,278.25 L1400.29,273.25 L1402.6,268.52 L1404.92,264.06 L1407.24,259.86 L1409.56,255.91 L1411.88,252.22 L1414.19,248.77 L1416.51,245.55 L1418.83,242.56 L1421.15,239.78 L1423.47,237.19 L1425.78,234.8 L1428.1,232.59 L1430.42,230.55 L1432.74,228.66 L1435.06,226.93 L1437.37,225.33 L1439.69,223.85 L1442.01,222.5 L1444.33,221.26 L1446.65,220.12 L1448.97,219.07 L1451.28,218.12 L1453.6,217.24 L1455.92,216.44 L1458.24,215.7 L1460.56,215.03 L1462.87,214.41 L1465.19,213.85 L1467.51,213.34 L1469.83,212.87 L1472.15,212.44 L1474.46,212.05 L1476.78,211.7 L1479.1,211.37 L1481.42,211.07 L1483.74,210.8 L1486.05,210.56 L1488.37,210.33 L1490.69,210.12 L1493.01,209.94 L1495.33,209.77 L1497.64,209.61 L1499.96,209.47 L1502.28,209.34 L1504.6,209.22 L1506.92,209.12 L1509.23,209.02 L1511.55,208.93 L1513.87,208.85 L1516.19,208.77 L1518.51,208.71 L1520.83,208.64 L1523.14,208.59 L1525.46,208.54 L1527.78,208.49" fill="none" stroke="#0000c0" stroke-width="4.6" stroke-linecap="butt" stroke-linejoin="round"/>
<polygon points="1527.78,219.25 1538.28,240.75 1517.28,240.75" fill="#0000c0"/>
<polygon points="1474.8,201.75 1485.3,223.25 1464.3,223.25" fill="#0000c0"/>
<polygon points="1421.81,201.75 1432.31,223.25 1411.31,223.25" fill="#0000c0"/>
<polygon points="1368.83,374.25 1379.33,395.75 1358.33,395.75" fill="#0000c0"/>
<polygon points="1315.84,461.75 1326.34,483.25 1305.34,483.25" fill="#0000c0"/>
<polygon points="1262.86,504.75 1273.36,526.25 1252.36,526.25" fill="#0000c0"/>
<polygon points="1209.87,519.25 1220.37,540.75 1199.37,540.75" fill="#0000c0"/>
<polygon points="1156.89,534.25 1167.39,555.75 1146.39,555.75" fill="#0000c0"/>
<line x1="1001.2" y1="107.1" x2="1001.2" y2="558.8" stroke="#000000" stroke-width="5" stroke-linecap="butt"/>
<line x1="987.5" y1="556.3" x2="1001.2" y2="556.3" stroke="#000000" stroke-width="5" stroke-linecap="round"/>
<g transform="translate(982,568.9) scale(0.9,1)">
<text x="0" y="0" font-family="'Liberation Sans','Noto Sans CJK SC',sans-serif" font-size="39.5" font-weight="bold" text-anchor="end">0</text>
</g>
<line x1="987.5" y1="444.6" x2="1001.2" y2="444.6" stroke="#000000" stroke-width="5" stroke-linecap="round"/>
<g transform="translate(982,457.2) scale(0.9,1)">
<text x="0" y="0" font-family="'Liberation Sans','Noto Sans CJK SC',sans-serif" font-size="39.5" font-weight="bold" text-anchor="end">1</text>
</g>
<line x1="987.5" y1="333" x2="1001.2" y2="333" stroke="#000000" stroke-width="5" stroke-linecap="round"/>
<g transform="translate(982,345.6) scale(0.9,1)">
<text x="0" y="0" font-family="'Liberation Sans','Noto Sans CJK SC',sans-serif" font-size="39.5" font-weight="bold" text-anchor="end">2</text>
</g>
<line x1="987.5" y1="221.3" x2="1001.2" y2="221.3" stroke="#000000" stroke-width="5" stroke-linecap="round"/>
<g transform="translate(982,233.9) scale(0.9,1)">
<text x="0" y="0" font-family="'Liberation Sans','Noto Sans CJK SC',sans-serif" font-size="39.5" font-weight="bold" text-anchor="end">3</text>
</g>
<line x1="987.5" y1="109.6" x2="1001.2" y2="109.6" stroke="#000000" stroke-width="5" stroke-linecap="round"/>
<g transform="translate(982,122.2) scale(0.9,1)">
<text x="0" y="0" font-family="'Liberation Sans','Noto Sans CJK SC',sans-serif" font-size="39.5" font-weight="bold" text-anchor="end">4</text>
</g>
<text transform="translate(923.6,334) rotate(-90)" font-family="'Liberation Sans','Noto Sans CJK SC',sans-serif" font-size="34.5" font-weight="bold" text-anchor="middle" letter-spacing="0.5">OD 450</text>
<line x1="1048" y1="606.7" x2="1607.8" y2="606.7" stroke="#000000" stroke-width="5.2" stroke-linecap="butt"/>
<line x1="1050.15" y1="606.7" x2="1050.15" y2="621.5" stroke="#000000" stroke-width="4.8" stroke-linecap="round"/>
<line x1="1083.58" y1="606.7" x2="1083.58" y2="614.4" stroke="#000000" stroke-width="4.8" stroke-linecap="round"/>
<line x1="1103.13" y1="606.7" x2="1103.13" y2="614.4" stroke="#000000" stroke-width="4.8" stroke-linecap="round"/>
<line x1="1117.01" y1="606.7" x2="1117.01" y2="614.4" stroke="#000000" stroke-width="4.8" stroke-linecap="round"/>
<line x1="1127.77" y1="606.7" x2="1127.77" y2="614.4" stroke="#000000" stroke-width="4.8" stroke-linecap="round"/>
<line x1="1136.56" y1="606.7" x2="1136.56" y2="614.4" stroke="#000000" stroke-width="4.8" stroke-linecap="round"/>
<line x1="1144" y1="606.7" x2="1144" y2="614.4" stroke="#000000" stroke-width="4.8" stroke-linecap="round"/>
<line x1="1150.44" y1="606.7" x2="1150.44" y2="614.4" stroke="#000000" stroke-width="4.8" stroke-linecap="round"/>
<line x1="1156.12" y1="606.7" x2="1156.12" y2="614.4" stroke="#000000" stroke-width="4.8" stroke-linecap="round"/>
<line x1="1161.2" y1="606.7" x2="1161.2" y2="621.5" stroke="#000000" stroke-width="4.8" stroke-linecap="round"/>
<line x1="1194.63" y1="606.7" x2="1194.63" y2="614.4" stroke="#000000" stroke-width="4.8" stroke-linecap="round"/>
<line x1="1214.18" y1="606.7" x2="1214.18" y2="614.4" stroke="#000000" stroke-width="4.8" stroke-linecap="round"/>
<line x1="1228.06" y1="606.7" x2="1228.06" y2="614.4" stroke="#000000" stroke-width="4.8" stroke-linecap="round"/>
<line x1="1238.82" y1="606.7" x2="1238.82" y2="614.4" stroke="#000000" stroke-width="4.8" stroke-linecap="round"/>
<line x1="1247.61" y1="606.7" x2="1247.61" y2="614.4" stroke="#000000" stroke-width="4.8" stroke-linecap="round"/>
<line x1="1255.05" y1="606.7" x2="1255.05" y2="614.4" stroke="#000000" stroke-width="4.8" stroke-linecap="round"/>
<line x1="1261.49" y1="606.7" x2="1261.49" y2="614.4" stroke="#000000" stroke-width="4.8" stroke-linecap="round"/>
<line x1="1267.17" y1="606.7" x2="1267.17" y2="614.4" stroke="#000000" stroke-width="4.8" stroke-linecap="round"/>
<line x1="1272.25" y1="606.7" x2="1272.25" y2="621.5" stroke="#000000" stroke-width="4.8" stroke-linecap="round"/>
<line x1="1305.68" y1="606.7" x2="1305.68" y2="614.4" stroke="#000000" stroke-width="4.8" stroke-linecap="round"/>
<line x1="1325.23" y1="606.7" x2="1325.23" y2="614.4" stroke="#000000" stroke-width="4.8" stroke-linecap="round"/>
<line x1="1339.11" y1="606.7" x2="1339.11" y2="614.4" stroke="#000000" stroke-width="4.8" stroke-linecap="round"/>
<line x1="1349.87" y1="606.7" x2="1349.87" y2="614.4" stroke="#000000" stroke-width="4.8" stroke-linecap="round"/>
<line x1="1358.66" y1="606.7" x2="1358.66" y2="614.4" stroke="#000000" stroke-width="4.8" stroke-linecap="round"/>
<line x1="1366.1" y1="606.7" x2="1366.1" y2="614.4" stroke="#000000" stroke-width="4.8" stroke-linecap="round"/>
<line x1="1372.54" y1="606.7" x2="1372.54" y2="614.4" stroke="#000000" stroke-width="4.8" stroke-linecap="round"/>
<line x1="1378.22" y1="606.7" x2="1378.22" y2="614.4" stroke="#000000" stroke-width="4.8" stroke-linecap="round"/>
<line x1="1383.3" y1="606.7" x2="1383.3" y2="621.5" stroke="#000000" stroke-width="4.8" stroke-linecap="round"/>
<line x1="1416.73" y1="606.7" x2="1416.73" y2="614.4" stroke="#000000" stroke-width="4.8" stroke-linecap="round"/>
<line x1="1436.28" y1="606.7" x2="1436.28" y2="614.4" stroke="#000000" stroke-width="4.8" stroke-linecap="round"/>
<line x1="1450.16" y1="606.7" x2="1450.16" y2="614.4" stroke="#000000" stroke-width="4.8" stroke-linecap="round"/>
<line x1="1460.92" y1="606.7" x2="1460.92" y2="614.4" stroke="#000000" stroke-width="4.8" stroke-linecap="round"/>
<line x1="1469.71" y1="606.7" x2="1469.71" y2="614.4" stroke="#000000" stroke-width="4.8" stroke-linecap="round"/>
<line x1="1477.15" y1="606.7" x2="1477.15" y2="614.4" stroke="#000000" stroke-width="4.8" stroke-linecap="round"/>
<line x1="1483.59" y1="606.7" x2="1483.59" y2="614.4" stroke="#000000" stroke-width="4.8" stroke-linecap="round"/>
<line x1="1489.27" y1="606.7" x2="1489.27" y2="614.4" stroke="#000000" stroke-width="4.8" stroke-linecap="round"/>
<line x1="1494.35" y1="606.7" x2="1494.35" y2="621.5" stroke="#000000" stroke-width="4.8" stroke-linecap="round"/>
<line x1="1527.78" y1="606.7" x2="1527.78" y2="614.4" stroke="#000000" stroke-width="4.8" stroke-linecap="round"/>
<line x1="1547.33" y1="606.7" x2="1547.33" y2="614.4" stroke="#000000" stroke-width="4.8" stroke-linecap="round"/>
<line x1="1561.21" y1="606.7" x2="1561.21" y2="614.4" stroke="#000000" stroke-width="4.8" stroke-linecap="round"/>
<line x1="1571.97" y1="606.7" x2="1571.97" y2="614.4" stroke="#000000" stroke-width="4.8" stroke-linecap="round"/>
<line x1="1580.76" y1="606.7" x2="1580.76" y2="614.4" stroke="#000000" stroke-width="4.8" stroke-linecap="round"/>
<line x1="1588.2" y1="606.7" x2="1588.2" y2="614.4" stroke="#000000" stroke-width="4.8" stroke-linecap="round"/>
<line x1="1594.64" y1="606.7" x2="1594.64" y2="614.4" stroke="#000000" stroke-width="4.8" stroke-linecap="round"/>
<line x1="1600.32" y1="606.7" x2="1600.32" y2="614.4" stroke="#000000" stroke-width="4.8" stroke-linecap="round"/>
<line x1="1605.4" y1="606.7" x2="1605.4" y2="621.5" stroke="#000000" stroke-width="4.8" stroke-linecap="round"/>
<g transform="translate(1019.09,661.4) scale(0.9,1)">
<text x="0" y="0" font-family="'Liberation Sans','Noto Sans CJK SC',sans-serif" font-size="39.5" font-weight="bold" text-anchor="start" letter-spacing="-1.5">10</text>
</g>
<g transform="translate(1060.26,647) scale(0.9,1)">
<text x="0" y="0" font-family="'Liberation Sans','Noto Sans CJK SC',sans-serif" font-size="24.5" font-weight="bold" text-anchor="start">-1</text>
</g>
<g transform="translate(1133.93,661.4) scale(0.9,1)">
<text x="0" y="0" font-family="'Liberation Sans','Noto Sans CJK SC',sans-serif" font-size="39.5" font-weight="bold" text-anchor="start" letter-spacing="-1.5">10</text>
</g>
<g transform="translate(1174.87,647) scale(0.9,1)">
<text x="0" y="0" font-family="'Liberation Sans','Noto Sans CJK SC',sans-serif" font-size="24.5" font-weight="bold" text-anchor="start">0</text>
</g>
<g transform="translate(1244.98,661.4) scale(0.9,1)">
<text x="0" y="0" font-family="'Liberation Sans','Noto Sans CJK SC',sans-serif" font-size="39.5" font-weight="bold" text-anchor="start" letter-spacing="-1.5">10</text>
</g>
<g transform="translate(1285.92,647) scale(0.9,1)">
<text x="0" y="0" font-family="'Liberation Sans','Noto Sans CJK SC',sans-serif" font-size="24.5" font-weight="bold" text-anchor="start">1</text>
</g>
<g transform="translate(1356.03,661.4) scale(0.9,1)">
<text x="0" y="0" font-family="'Liberation Sans','Noto Sans CJK SC',sans-serif" font-size="39.5" font-weight="bold" text-anchor="start" letter-spacing="-1.5">10</text>
</g>
<g transform="translate(1396.97,647) scale(0.9,1)">
<text x="0" y="0" font-family="'Liberation Sans','Noto Sans CJK SC',sans-serif" font-size="24.5" font-weight="bold" text-anchor="start">2</text>
</g>
<g transform="translate(1467.08,661.4) scale(0.9,1)">
<text x="0" y="0" font-family="'Liberation Sans','Noto Sans CJK SC',sans-serif" font-size="39.5" font-weight="bold" text-anchor="start" letter-spacing="-1.5">10</text>
</g>
<g transform="translate(1508.02,647) scale(0.9,1)">
<text x="0" y="0" font-family="'Liberation Sans','Noto Sans CJK SC',sans-serif" font-size="24.5" font-weight="bold" text-anchor="start">3</text>
</g>
<g transform="translate(1578.13,661.4) scale(0.9,1)">
<text x="0" y="0" font-family="'Liberation Sans','Noto Sans CJK SC',sans-serif" font-size="39.5" font-weight="bold" text-anchor="start" letter-spacing="-1.5">10</text>
</g>
<g transform="translate(1619.07,647) scale(0.9,1)">
<text x="0" y="0" font-family="'Liberation Sans','Noto Sans CJK SC',sans-serif" font-size="24.5" font-weight="bold" text-anchor="start">4</text>
</g>
<text x="1327.2" y="708.7" font-family="'Liberation Sans','Noto Sans CJK SC',sans-serif" font-size="34.4" font-weight="bold" text-anchor="middle">GB235 (ng/mL)</text>
</g>
<g id="panel-c">
<text x="-0.5" y="813.8" font-family="'Liberation Serif','Noto Serif CJK SC',serif" font-size="54" font-weight="bold" text-anchor="start">C</text>
<circle cx="133.4" cy="831.6" r="10.6" fill="#ff0000"/>
<polygon points="134.8,898.65 145.45,877.35 124.15,877.35" fill="#0000c0"/>
<polygon points="137.2,939.25 146,956.35 128.4,956.35" fill="none" stroke="#000000" stroke-width="1.4" stroke-linejoin="miter"/>
<polygon points="137.7,939.25 137.7,956.35 128.4,956.35" fill="#000000"/>
<text x="190" y="843.8" font-family="'Liberation Sans','Noto Sans CJK SC',sans-serif" font-size="34.9" font-weight="bold" text-anchor="start">Human HER2</text>
<text x="190" y="900.5" font-family="'Liberation Sans','Noto Sans CJK SC',sans-serif" font-size="34.9" font-weight="bold" text-anchor="start">Rat HER2</text>
<text x="193.7" y="957.9" font-family="'Liberation Sans','Noto Sans CJK SC',sans-serif" font-size="34.9" font-weight="bold" text-anchor="start" letter-spacing="0.6">Mouse HER2</text>
<line x1="449.79" y1="1090" x2="449.79" y2="1110" stroke="#ff0000" stroke-width="6.5" stroke-linecap="butt"/>
<line x1="439.29" y1="1090" x2="460.29" y2="1090" stroke="#ff0000" stroke-width="5.4" stroke-linecap="round"/>
<line x1="439.29" y1="1110" x2="460.29" y2="1110" stroke="#ff0000" stroke-width="5.4" stroke-linecap="round"/>
<path d="M146.5,1300.5 L189,1300.5" fill="none" stroke="#ff0000" stroke-width="4.6" stroke-linecap="butt" stroke-linejoin="round" stroke-dasharray="16 7"/>
<path d="M219,1300.15 L221.75,1300.14 L224.5,1300.14 L227.25,1300.13 L230,1300.12 L232.75,1300.11 L235.5,1300.1 L238.25,1300.09 L241,1300.07 L243.75,1300.06 L246.49,1300.04 L249.24,1300.02 L251.99,1300 L254.74,1299.97 L257.49,1299.95 L260.24,1299.92 L262.99,1299.88 L265.74,1299.85 L268.49,1299.8 L271.24,1299.76 L273.99,1299.71 L276.74,1299.65 L279.49,1299.58 L282.24,1299.51 L284.99,1299.43 L287.74,1299.34 L290.49,1299.24 L293.24,1299.13 L295.99,1299.01 L298.73,1298.87 L301.48,1298.71 L304.23,1298.54 L306.98,1298.35 L309.73,1298.13 L312.48,1297.89 L315.23,1297.63 L317.98,1297.33 L320.73,1297 L323.48,1296.63 L326.23,1296.22 L328.98,1295.77 L331.73,1295.26 L334.48,1294.7 L337.23,1294.07 L339.98,1293.37 L342.73,1292.6 L345.48,1291.73 L348.23,1290.78 L350.98,1289.72 L353.72,1288.54 L356.47,1287.24 L359.22,1285.8 L361.97,1284.21 L364.72,1282.45 L367.47,1280.51 L370.22,1278.37 L372.97,1276.01 L375.72,1273.42 L378.47,1270.58 L381.22,1267.47 L383.97,1264.07 L386.72,1260.36 L389.47,1256.32 L392.22,1251.94 L394.97,1247.2 L397.72,1242.08 L400.47,1236.58 L403.22,1230.68 L405.96,1224.38 L408.71,1217.67 L411.46,1210.57 L414.21,1203.08 L416.96,1195.22 L419.71,1187.02 L422.46,1178.49 L425.21,1169.68 L427.96,1160.62 L430.71,1151.37 L433.46,1141.97 L436.21,1132.48 L438.96,1122.95 L441.71,1113.44 L444.46,1104.02 L447.21,1094.72 L449.96,1085.6 L452.71,1076.72 L455.46,1068.12 L458.2,1059.82 L460.95,1051.86 L463.7,1044.27 L466.45,1037.07 L469.2,1030.25 L471.95,1023.84 L474.7,1017.83 L477.45,1012.22 L480.2,1007 L482.95,1002.16 L485.7,997.68 L488.45,993.56 L491.2,989.76 L493.95,986.28 L496.7,983.09 L499.45,980.18 L502.2,977.52 L504.95,975.11 L507.7,972.91 L510.45,970.91 L513.19,969.11 L515.94,967.47 L518.69,965.99 L521.44,964.65 L524.19,963.44 L526.94,962.35 L529.69,961.37 L532.44,960.48 L535.19,959.69 L537.94,958.97 L540.69,958.32 L543.44,957.74 L546.19,957.22 L548.94,956.75 L551.69,956.33 L554.44,955.95 L557.19,955.61 L559.94,955.31 L562.69,955.03 L565.43,954.79 L568.18,954.57 L570.93,954.37 L573.68,954.19 L576.43,954.03 L579.18,953.89 L581.93,953.76 L584.68,953.64 L587.43,953.54 L590.18,953.45 L592.93,953.37 L595.68,953.29 L598.43,953.22 L601.18,953.17 L603.93,953.11 L606.68,953.06 L609.43,953.02 L612.18,952.98 L614.93,952.95 L617.67,952.92 L620.42,952.89 L623.17,952.86 L625.92,952.84 L628.67,952.82 L631.42,952.8 L634.17,952.79 L636.92,952.77 L639.67,952.76 L642.42,952.75 L645.17,952.74 L647.92,952.73 L650.67,952.72 L653.42,952.71 L656.17,952.71 L658.92,952.7" fill="none" stroke="#ff0000" stroke-width="4.6" stroke-linecap="butt" stroke-linejoin="round" stroke-dasharray="16 7"/>
<circle cx="146.5" cy="1302.5" r="10.6" fill="#ff0000"/>
<circle cx="658.92" cy="952.5" r="10.6" fill="#ff0000"/>
<circle cx="606.63" cy="958.2" r="10.6" fill="#ff0000"/>
<circle cx="554.35" cy="960" r="10.6" fill="#ff0000"/>
<circle cx="502.07" cy="966.2" r="10.6" fill="#ff0000"/>
<circle cx="449.79" cy="1100" r="10.6" fill="#ff0000"/>
<circle cx="397.5" cy="1240" r="10.6" fill="#ff0000"/>
<circle cx="345.22" cy="1286" r="10.6" fill="#ff0000"/>
<circle cx="292.94" cy="1299" r="10.6" fill="#ff0000"/>
<circle cx="240.65" cy="1300" r="10.6" fill="#ff0000"/>
<line x1="345.22" y1="1242.5" x2="345.22" y2="1290" stroke="#0000c0" stroke-width="6.5" stroke-linecap="butt"/>
<line x1="334.72" y1="1242.5" x2="355.72" y2="1242.5" stroke="#0000c0" stroke-width="5.4" stroke-linecap="round"/>
<line x1="334.72" y1="1290" x2="355.72" y2="1290" stroke="#0000c0" stroke-width="5.4" stroke-linecap="round"/>
<path d="M146.5,1290.5 L189,1290.5" fill="none" stroke="#0000c0" stroke-width="4.6" stroke-linecap="butt" stroke-linejoin="round" stroke-dasharray="16 7"/>
<path d="M219,1289.43 L221.75,1289.43 L224.5,1289.43 L227.25,1289.43 L230,1289.43 L232.75,1289.43 L235.5,1289.43 L238.25,1289.43 L241,1289.43 L243.75,1289.43 L246.49,1289.43 L249.24,1289.43 L251.99,1289.43 L254.74,1289.43 L257.49,1289.43 L260.24,1289.43 L262.99,1289.43 L265.74,1289.43 L268.49,1289.43 L271.24,1289.43 L273.99,1289.43 L276.74,1289.43 L279.49,1289.43 L282.24,1289.43 L284.99,1289.43 L287.74,1289.43 L290.49,1289.43 L293.24,1289.43 L295.99,1289.43 L298.73,1289.43 L301.48,1289.43 L304.23,1289.43 L306.98,1289.43 L309.73,1289.43 L312.48,1289.43 L315.23,1289.43 L317.98,1289.43 L320.73,1289.42 L323.48,1289.42 L326.23,1289.42 L328.98,1289.42 L331.73,1289.42 L334.48,1289.42 L337.23,1289.42 L339.98,1289.42 L342.73,1289.41 L345.48,1289.41 L348.23,1289.41 L350.98,1289.4 L353.72,1289.4 L356.47,1289.39 L359.22,1289.39 L361.97,1289.38 L364.72,1289.37 L367.47,1289.36 L370.22,1289.35 L372.97,1289.33 L375.72,1289.32 L378.47,1289.3 L381.22,1289.27 L383.97,1289.25 L386.72,1289.21 L389.47,1289.17 L392.22,1289.13 L394.97,1289.07 L397.72,1289.01 L400.47,1288.93 L403.22,1288.84 L405.96,1288.74 L408.71,1288.61 L411.46,1288.46 L414.21,1288.29 L416.96,1288.09 L419.71,1287.84 L422.46,1287.56 L425.21,1287.22 L427.96,1286.83 L430.71,1286.36 L433.46,1285.82 L436.21,1285.17 L438.96,1284.42 L441.71,1283.53 L444.46,1282.49 L447.21,1281.27 L449.96,1279.84 L452.71,1278.18 L455.46,1276.24 L458.2,1273.98 L460.95,1271.37 L463.7,1268.35 L466.45,1264.87 L469.2,1260.88 L471.95,1256.33 L474.7,1251.17 L477.45,1245.34 L480.2,1238.82 L482.95,1231.56 L485.7,1223.57 L488.45,1214.85 L491.2,1205.43 L493.95,1195.37 L496.7,1184.76 L499.45,1173.7 L502.2,1162.32 L504.95,1150.79 L507.7,1139.25 L510.45,1127.86 L513.19,1116.77 L515.94,1106.11 L518.69,1096.01 L521.44,1086.54 L524.19,1077.76 L526.94,1069.71 L529.69,1062.4 L532.44,1055.82 L535.19,1049.94 L537.94,1044.73 L540.69,1040.14 L543.44,1036.11 L546.19,1032.59 L548.94,1029.54 L551.69,1026.9 L554.44,1024.62 L557.19,1022.65 L559.94,1020.97 L562.69,1019.53 L565.43,1018.29 L568.18,1017.24 L570.93,1016.34 L573.68,1015.57 L576.43,1014.92 L579.18,1014.37 L581.93,1013.9 L584.68,1013.5 L587.43,1013.16 L590.18,1012.87 L592.93,1012.62 L595.68,1012.41 L598.43,1012.24 L601.18,1012.09 L603.93,1011.96 L606.68,1011.86 L609.43,1011.77 L612.18,1011.69 L614.93,1011.62 L617.67,1011.57 L620.42,1011.52 L623.17,1011.48 L625.92,1011.45 L628.67,1011.42 L631.42,1011.4 L634.17,1011.37 L636.92,1011.36 L639.67,1011.34 L642.42,1011.33 L645.17,1011.32 L647.92,1011.31 L650.67,1011.3 L653.42,1011.3 L656.17,1011.29 L658.92,1011.29" fill="none" stroke="#0000c0" stroke-width="4.6" stroke-linecap="butt" stroke-linejoin="round" stroke-dasharray="16 7"/>
<polygon points="146.5,1305.5 157,1284.5 136,1284.5" fill="#0000c0"/>
<polygon points="658.92,1018 669.42,997 648.42,997" fill="#0000c0"/>
<polygon points="606.63,1034.2 617.13,1013.2 596.13,1013.2" fill="#0000c0"/>
<polygon points="554.35,1026.5 564.85,1005.5 543.85,1005.5" fill="#0000c0"/>
<polygon points="502.07,1178 512.57,1157 491.57,1157" fill="#0000c0"/>
<polygon points="449.79,1275.5 460.29,1254.5 439.29,1254.5" fill="#0000c0"/>
<polygon points="397.5,1303 408,1282 387,1282" fill="#0000c0"/>
<polygon points="345.22,1278 355.72,1257 334.72,1257" fill="#0000c0"/>
<polygon points="292.94,1308 303.44,1287 282.44,1287" fill="#0000c0"/>
<polygon points="240.65,1314.2 251.15,1293.2 230.15,1293.2" fill="#0000c0"/>
<polygon points="146.5,1302.45 155.3,1319.55 137.7,1319.55" fill="none" stroke="#000000" stroke-width="1.4" stroke-linejoin="miter"/>
<polygon points="147,1302.45 147,1319.55 137.7,1319.55" fill="#000000"/>
<polygon points="658.92,1296.45 667.72,1313.55 650.12,1313.55" fill="none" stroke="#000000" stroke-width="1.4" stroke-linejoin="miter"/>
<polygon points="659.42,1296.45 659.42,1313.55 650.12,1313.55" fill="#000000"/>
<polygon points="606.63,1297.95 615.43,1315.05 597.83,1315.05" fill="none" stroke="#000000" stroke-width="1.4" stroke-linejoin="miter"/>
<polygon points="607.13,1297.95 607.13,1315.05 597.83,1315.05" fill="#000000"/>
<polygon points="554.35,1300.95 563.15,1318.05 545.55,1318.05" fill="none" stroke="#000000" stroke-width="1.4" stroke-linejoin="miter"/>
<polygon points="554.85,1300.95 554.85,1318.05 545.55,1318.05" fill="#000000"/>
<polygon points="502.07,1299.15 510.87,1316.25 493.27,1316.25" fill="none" stroke="#000000" stroke-width="1.4" stroke-linejoin="miter"/>
<polygon points="502.57,1299.15 502.57,1316.25 493.27,1316.25" fill="#000000"/>
<polygon points="449.79,1302.65 458.59,1319.75 440.99,1319.75" fill="none" stroke="#000000" stroke-width="1.4" stroke-linejoin="miter"/>
<polygon points="450.29,1302.65 450.29,1319.75 440.99,1319.75" fill="#000000"/>
<polygon points="397.5,1302.45 406.3,1319.55 388.7,1319.55" fill="none" stroke="#000000" stroke-width="1.4" stroke-linejoin="miter"/>
<polygon points="398,1302.45 398,1319.55 388.7,1319.55" fill="#000000"/>
<polygon points="345.22,1302.45 354.02,1319.55 336.42,1319.55" fill="none" stroke="#000000" stroke-width="1.4" stroke-linejoin="miter"/>
<polygon points="345.72,1302.45 345.72,1319.55 336.42,1319.55" fill="#000000"/>
<polygon points="292.94,1302.45 301.74,1319.55 284.14,1319.55" fill="none" stroke="#000000" stroke-width="1.4" stroke-linejoin="miter"/>
<polygon points="293.44,1302.45 293.44,1319.55 284.14,1319.55" fill="#000000"/>
<polygon points="240.65,1302.95 249.45,1320.05 231.85,1320.05" fill="none" stroke="#000000" stroke-width="1.4" stroke-linejoin="miter"/>
<polygon points="241.15,1302.95 241.15,1320.05 231.85,1320.05" fill="#000000"/>
<path d="M146.5,1308.5 L189,1308.5" fill="none" stroke="#000000" stroke-width="4.6" stroke-linecap="butt" stroke-linejoin="round" stroke-dasharray="16 7"/>
<path d="M219,1308.5 L554.35,1308 L658.92,1304.5" fill="none" stroke="#000000" stroke-width="4.6" stroke-linecap="butt" stroke-linejoin="round" stroke-dasharray="16 7"/>
<line x1="97.1" y1="897.4" x2="97.1" y2="1356.8" stroke="#000000" stroke-width="5.2" stroke-linecap="butt"/>
<line x1="81" y1="900" x2="97.1" y2="900" stroke="#000000" stroke-width="5.2" stroke-linecap="round"/>
<line x1="81" y1="1354.2" x2="97.1" y2="1354.2" stroke="#000000" stroke-width="5.2" stroke-linecap="round"/>
<line x1="82.5" y1="1323.7" x2="97.1" y2="1323.7" stroke="#000000" stroke-width="5.2" stroke-linecap="round"/>
<text x="76.3" y="1336.5" font-family="'Liberation Sans','Noto Sans CJK SC',sans-serif" font-size="35.5" font-weight="bold" text-anchor="end">0</text>
<line x1="82.5" y1="1202.6" x2="97.1" y2="1202.6" stroke="#000000" stroke-width="5.2" stroke-linecap="round"/>
<text x="76.3" y="1215.4" font-family="'Liberation Sans','Noto Sans CJK SC',sans-serif" font-size="35.5" font-weight="bold" text-anchor="end">1</text>
<line x1="82.5" y1="1081.5" x2="97.1" y2="1081.5" stroke="#000000" stroke-width="5.2" stroke-linecap="round"/>
<text x="76.3" y="1094.3" font-family="'Liberation Sans','Noto Sans CJK SC',sans-serif" font-size="35.5" font-weight="bold" text-anchor="end">2</text>
<line x1="82.5" y1="960.4" x2="97.1" y2="960.4" stroke="#000000" stroke-width="5.2" stroke-linecap="round"/>
<text x="76.3" y="973.2" font-family="'Liberation Sans','Noto Sans CJK SC',sans-serif" font-size="35.5" font-weight="bold" text-anchor="end">3</text>
<text transform="translate(35.5,1130.5) rotate(-90)" font-family="'Liberation Sans','Noto Sans CJK SC',sans-serif" font-size="36" font-weight="bold" text-anchor="middle">OD450</text>
<line x1="143" y1="1404.7" x2="191.2" y2="1404.7" stroke="#000000" stroke-width="5.2" stroke-linecap="butt"/>
<line x1="145.3" y1="1404.7" x2="145.3" y2="1420.7" stroke="#000000" stroke-width="4.6" stroke-linecap="round"/>
<line x1="188.9" y1="1394.3" x2="188.9" y2="1415.5" stroke="#000000" stroke-width="5.4" stroke-linecap="butt"/>
<line x1="226" y1="1394.3" x2="226" y2="1421.9" stroke="#000000" stroke-width="5.6" stroke-linecap="butt"/>
<line x1="223.7" y1="1404.7" x2="713.6" y2="1404.7" stroke="#000000" stroke-width="5.2" stroke-linecap="butt"/>
<line x1="262.4" y1="1404.7" x2="262.4" y2="1419.5" stroke="#000000" stroke-width="4.8" stroke-linecap="round"/>
<line x1="284.92" y1="1404.7" x2="284.92" y2="1413.2" stroke="#000000" stroke-width="4.8" stroke-linecap="round"/>
<line x1="298.09" y1="1404.7" x2="298.09" y2="1413.2" stroke="#000000" stroke-width="4.8" stroke-linecap="round"/>
<line x1="307.43" y1="1404.7" x2="307.43" y2="1413.2" stroke="#000000" stroke-width="4.8" stroke-linecap="round"/>
<line x1="314.68" y1="1404.7" x2="314.68" y2="1413.2" stroke="#000000" stroke-width="4.8" stroke-linecap="round"/>
<line x1="320.61" y1="1404.7" x2="320.61" y2="1413.2" stroke="#000000" stroke-width="4.8" stroke-linecap="round"/>
<line x1="325.61" y1="1404.7" x2="325.61" y2="1413.2" stroke="#000000" stroke-width="4.8" stroke-linecap="round"/>
<line x1="329.95" y1="1404.7" x2="329.95" y2="1413.2" stroke="#000000" stroke-width="4.8" stroke-linecap="round"/>
<line x1="333.78" y1="1404.7" x2="333.78" y2="1413.2" stroke="#000000" stroke-width="4.8" stroke-linecap="round"/>
<line x1="337.2" y1="1404.7" x2="337.2" y2="1419.5" stroke="#000000" stroke-width="4.8" stroke-linecap="round"/>
<line x1="359.72" y1="1404.7" x2="359.72" y2="1413.2" stroke="#000000" stroke-width="4.8" stroke-linecap="round"/>
<line x1="372.89" y1="1404.7" x2="372.89" y2="1413.2" stroke="#000000" stroke-width="4.8" stroke-linecap="round"/>
<line x1="382.23" y1="1404.7" x2="382.23" y2="1413.2" stroke="#000000" stroke-width="4.8" stroke-linecap="round"/>
<line x1="389.48" y1="1404.7" x2="389.48" y2="1413.2" stroke="#000000" stroke-width="4.8" stroke-linecap="round"/>
<line x1="395.41" y1="1404.7" x2="395.41" y2="1413.2" stroke="#000000" stroke-width="4.8" stroke-linecap="round"/>
<line x1="400.41" y1="1404.7" x2="400.41" y2="1413.2" stroke="#000000" stroke-width="4.8" stroke-linecap="round"/>
<line x1="404.75" y1="1404.7" x2="404.75" y2="1413.2" stroke="#000000" stroke-width="4.8" stroke-linecap="round"/>
<line x1="408.58" y1="1404.7" x2="408.58" y2="1413.2" stroke="#000000" stroke-width="4.8" stroke-linecap="round"/>
<line x1="412" y1="1404.7" x2="412" y2="1419.5" stroke="#000000" stroke-width="4.8" stroke-linecap="round"/>
<line x1="434.52" y1="1404.7" x2="434.52" y2="1413.2" stroke="#000000" stroke-width="4.8" stroke-linecap="round"/>
<line x1="447.69" y1="1404.7" x2="447.69" y2="1413.2" stroke="#000000" stroke-width="4.8" stroke-linecap="round"/>
<line x1="457.03" y1="1404.7" x2="457.03" y2="1413.2" stroke="#000000" stroke-width="4.8" stroke-linecap="round"/>
<line x1="464.28" y1="1404.7" x2="464.28" y2="1413.2" stroke="#000000" stroke-width="4.8" stroke-linecap="round"/>
<line x1="470.21" y1="1404.7" x2="470.21" y2="1413.2" stroke="#000000" stroke-width="4.8" stroke-linecap="round"/>
<line x1="475.21" y1="1404.7" x2="475.21" y2="1413.2" stroke="#000000" stroke-width="4.8" stroke-linecap="round"/>
<line x1="479.55" y1="1404.7" x2="479.55" y2="1413.2" stroke="#000000" stroke-width="4.8" stroke-linecap="round"/>
<line x1="483.38" y1="1404.7" x2="483.38" y2="1413.2" stroke="#000000" stroke-width="4.8" stroke-linecap="round"/>
<line x1="486.8" y1="1404.7" x2="486.8" y2="1419.5" stroke="#000000" stroke-width="4.8" stroke-linecap="round"/>
<line x1="509.32" y1="1404.7" x2="509.32" y2="1413.2" stroke="#000000" stroke-width="4.8" stroke-linecap="round"/>
<line x1="522.49" y1="1404.7" x2="522.49" y2="1413.2" stroke="#000000" stroke-width="4.8" stroke-linecap="round"/>
<line x1="531.83" y1="1404.7" x2="531.83" y2="1413.2" stroke="#000000" stroke-width="4.8" stroke-linecap="round"/>
<line x1="539.08" y1="1404.7" x2="539.08" y2="1413.2" stroke="#000000" stroke-width="4.8" stroke-linecap="round"/>
<line x1="545.01" y1="1404.7" x2="545.01" y2="1413.2" stroke="#000000" stroke-width="4.8" stroke-linecap="round"/>
<line x1="550.01" y1="1404.7" x2="550.01" y2="1413.2" stroke="#000000" stroke-width="4.8" stroke-linecap="round"/>
<line x1="554.35" y1="1404.7" x2="554.35" y2="1413.2" stroke="#000000" stroke-width="4.8" stroke-linecap="round"/>
<line x1="558.18" y1="1404.7" x2="558.18" y2="1413.2" stroke="#000000" stroke-width="4.8" stroke-linecap="round"/>
<line x1="561.6" y1="1404.7" x2="561.6" y2="1419.5" stroke="#000000" stroke-width="4.8" stroke-linecap="round"/>
<line x1="584.12" y1="1404.7" x2="584.12" y2="1413.2" stroke="#000000" stroke-width="4.8" stroke-linecap="round"/>
<line x1="597.29" y1="1404.7" x2="597.29" y2="1413.2" stroke="#000000" stroke-width="4.8" stroke-linecap="round"/>
<line x1="606.63" y1="1404.7" x2="606.63" y2="1413.2" stroke="#000000" stroke-width="4.8" stroke-linecap="round"/>
<line x1="613.88" y1="1404.7" x2="613.88" y2="1413.2" stroke="#000000" stroke-width="4.8" stroke-linecap="round"/>
<line x1="619.81" y1="1404.7" x2="619.81" y2="1413.2" stroke="#000000" stroke-width="4.8" stroke-linecap="round"/>
<line x1="624.81" y1="1404.7" x2="624.81" y2="1413.2" stroke="#000000" stroke-width="4.8" stroke-linecap="round"/>
<line x1="629.15" y1="1404.7" x2="629.15" y2="1413.2" stroke="#000000" stroke-width="4.8" stroke-linecap="round"/>
<line x1="632.98" y1="1404.7" x2="632.98" y2="1413.2" stroke="#000000" stroke-width="4.8" stroke-linecap="round"/>
<line x1="636.4" y1="1404.7" x2="636.4" y2="1419.5" stroke="#000000" stroke-width="4.8" stroke-linecap="round"/>
<line x1="658.92" y1="1404.7" x2="658.92" y2="1413.2" stroke="#000000" stroke-width="4.8" stroke-linecap="round"/>
<line x1="672.09" y1="1404.7" x2="672.09" y2="1413.2" stroke="#000000" stroke-width="4.8" stroke-linecap="round"/>
<line x1="681.43" y1="1404.7" x2="681.43" y2="1413.2" stroke="#000000" stroke-width="4.8" stroke-linecap="round"/>
<line x1="688.68" y1="1404.7" x2="688.68" y2="1413.2" stroke="#000000" stroke-width="4.8" stroke-linecap="round"/>
<line x1="694.61" y1="1404.7" x2="694.61" y2="1413.2" stroke="#000000" stroke-width="4.8" stroke-linecap="round"/>
<line x1="699.61" y1="1404.7" x2="699.61" y2="1413.2" stroke="#000000" stroke-width="4.8" stroke-linecap="round"/>
<line x1="703.95" y1="1404.7" x2="703.95" y2="1413.2" stroke="#000000" stroke-width="4.8" stroke-linecap="round"/>
<line x1="707.78" y1="1404.7" x2="707.78" y2="1413.2" stroke="#000000" stroke-width="4.8" stroke-linecap="round"/>
<line x1="711.2" y1="1404.7" x2="711.2" y2="1419.5" stroke="#000000" stroke-width="4.8" stroke-linecap="round"/>
<line x1="232.63" y1="1404.7" x2="232.63" y2="1413.2" stroke="#000000" stroke-width="4.8" stroke-linecap="round"/>
<line x1="239.88" y1="1404.7" x2="239.88" y2="1413.2" stroke="#000000" stroke-width="4.8" stroke-linecap="round"/>
<line x1="245.81" y1="1404.7" x2="245.81" y2="1413.2" stroke="#000000" stroke-width="4.8" stroke-linecap="round"/>
<line x1="250.81" y1="1404.7" x2="250.81" y2="1413.2" stroke="#000000" stroke-width="4.8" stroke-linecap="round"/>
<line x1="255.15" y1="1404.7" x2="255.15" y2="1413.2" stroke="#000000" stroke-width="4.8" stroke-linecap="round"/>
<line x1="258.98" y1="1404.7" x2="258.98" y2="1413.2" stroke="#000000" stroke-width="4.8" stroke-linecap="round"/>
<g transform="translate(146.4,1461.4) scale(0.94,1)">
<text x="0" y="0" font-family="'Liberation Sans','Noto Sans CJK SC',sans-serif" font-size="41.5" font-weight="bold" text-anchor="middle">0</text>
</g>
<g transform="translate(232.44,1458.9) scale(0.95,1)">
<text x="0" y="0" font-family="'Liberation Sans','Noto Sans CJK SC',sans-serif" font-size="36.3" font-weight="bold" text-anchor="start">10</text>
</g>
<g transform="translate(273.41,1445.1) scale(0.95,1)">
<text x="0" y="0" font-family="'Liberation Sans','Noto Sans CJK SC',sans-serif" font-size="23.3" font-weight="bold" text-anchor="start">-2</text>
</g>
<g transform="translate(307.24,1458.9) scale(0.95,1)">
<text x="0" y="0" font-family="'Liberation Sans','Noto Sans CJK SC',sans-serif" font-size="36.3" font-weight="bold" text-anchor="start">10</text>
</g>
<g transform="translate(348.21,1445.1) scale(0.95,1)">
<text x="0" y="0" font-family="'Liberation Sans','Noto Sans CJK SC',sans-serif" font-size="23.3" font-weight="bold" text-anchor="start">-1</text>
</g>
<g transform="translate(385.83,1458.9) scale(0.95,1)">
<text x="0" y="0" font-family="'Liberation Sans','Noto Sans CJK SC',sans-serif" font-size="36.3" font-weight="bold" text-anchor="start">10</text>
</g>
<g transform="translate(426.59,1445.1) scale(0.95,1)">
<text x="0" y="0" font-family="'Liberation Sans','Noto Sans CJK SC',sans-serif" font-size="23.3" font-weight="bold" text-anchor="start">0</text>
</g>
<g transform="translate(460.63,1458.9) scale(0.95,1)">
<text x="0" y="0" font-family="'Liberation Sans','Noto Sans CJK SC',sans-serif" font-size="36.3" font-weight="bold" text-anchor="start">10</text>
</g>
<g transform="translate(501.39,1445.1) scale(0.95,1)">
<text x="0" y="0" font-family="'Liberation Sans','Noto Sans CJK SC',sans-serif" font-size="23.3" font-weight="bold" text-anchor="start">1</text>
</g>
<g transform="translate(535.43,1458.9) scale(0.95,1)">
<text x="0" y="0" font-family="'Liberation Sans','Noto Sans CJK SC',sans-serif" font-size="36.3" font-weight="bold" text-anchor="start">10</text>
</g>
<g transform="translate(576.19,1445.1) scale(0.95,1)">
<text x="0" y="0" font-family="'Liberation Sans','Noto Sans CJK SC',sans-serif" font-size="23.3" font-weight="bold" text-anchor="start">2</text>
</g>
<g transform="translate(610.23,1458.9) scale(0.95,1)">
<text x="0" y="0" font-family="'Liberation Sans','Noto Sans CJK SC',sans-serif" font-size="36.3" font-weight="bold" text-anchor="start">10</text>
</g>
<g transform="translate(650.99,1445.1) scale(0.95,1)">
<text x="0" y="0" font-family="'Liberation Sans','Noto Sans CJK SC',sans-serif" font-size="23.3" font-weight="bold" text-anchor="start">3</text>
</g>
<g transform="translate(685.03,1458.9) scale(0.95,1)">
<text x="0" y="0" font-family="'Liberation Sans','Noto Sans CJK SC',sans-serif" font-size="36.3" font-weight="bold" text-anchor="start">10</text>
</g>
<g transform="translate(725.79,1445.1) scale(0.95,1)">
<text x="0" y="0" font-family="'Liberation Sans','Noto Sans CJK SC',sans-serif" font-size="23.3" font-weight="bold" text-anchor="start">4</text>
</g>
<text x="428" y="1510.5" font-family="'Liberation Sans','Noto Sans CJK SC',sans-serif" font-size="35.3" font-weight="bold" text-anchor="middle">GB235 (ng/mL)</text>
</g>
<g id="panel-d">
<text x="895.5" y="813.6" font-family="'Liberation Serif','Noto Serif CJK SC',serif" font-size="54" font-weight="bold" text-anchor="start">D</text>
<rect x="1019.4" y="815.65" width="21.8" height="20.3" rx="1.5" fill="none" stroke="#0000c0" stroke-width="2.2"/>
<rect x="1018.3" y="814.55" width="24" height="11.75" rx="1.5" fill="#0000c0"/>
<polygon points="1030.3,874 1041.5,895.4 1019.1,895.4" fill="none" stroke="#000000" stroke-width="1.6" stroke-linejoin="miter"/>
<polygon points="1030.8,874 1030.8,895.4 1019.1,895.4" fill="#000000"/>
<polygon points="1030.2,953.6 1040.2,933.4 1020.2,933.4" fill="none" stroke="#008000" stroke-width="2" stroke-linejoin="miter"/>
<polygon points="1030.7,953.6 1030.7,933.4 1020.2,933.4" fill="#008000"/>
<circle cx="1032.9" cy="1004.1" r="10.6" fill="#ff0000"/>
<text x="1087" y="841.2" font-family="'Liberation Sans','Noto Sans CJK SC',sans-serif" font-size="35.3" font-weight="bold" text-anchor="start">HER2</text>
<text x="1181" y="825.9" font-family="'Liberation Serif','Noto Serif CJK SC',serif" font-size="24" font-weight="700" text-anchor="start">Ⅰ</text>
<text x="1207.5" y="827.7" font-family="'Liberation Sans','Noto Sans CJK SC',sans-serif" font-size="24" font-weight="bold" text-anchor="start">-</text>
<text x="1214.5" y="825.9" font-family="'Liberation Serif','Noto Serif CJK SC',serif" font-size="24" font-weight="700" text-anchor="start">Ⅳ</text>
<text x="1087" y="900" font-family="'Liberation Sans','Noto Sans CJK SC',sans-serif" font-size="35.3" font-weight="bold" text-anchor="start">HER2</text>
<text x="1181" y="884.7" font-family="'Liberation Serif','Noto Serif CJK SC',serif" font-size="24" font-weight="700" text-anchor="start">Ⅰ</text>
<text x="1207.5" y="886.5" font-family="'Liberation Sans','Noto Sans CJK SC',sans-serif" font-size="24" font-weight="bold" text-anchor="start">-</text>
<text x="1214.5" y="884.7" font-family="'Liberation Serif','Noto Serif CJK SC',serif" font-size="24" font-weight="700" text-anchor="start">Ⅳ</text>
<text x="1087" y="958.7" font-family="'Liberation Sans','Noto Sans CJK SC',sans-serif" font-size="35.3" font-weight="bold" text-anchor="start">HER2</text>
<text x="1181" y="943.4" font-family="'Liberation Serif','Noto Serif CJK SC',serif" font-size="24" font-weight="700" text-anchor="start">Ⅰ</text>
<text x="1207.5" y="945.2" font-family="'Liberation Sans','Noto Sans CJK SC',sans-serif" font-size="24" font-weight="bold" text-anchor="start">-</text>
<text x="1214.5" y="943.4" font-family="'Liberation Serif','Noto Serif CJK SC',serif" font-size="24" font-weight="700" text-anchor="start">Ⅳ</text>
<text x="1250.5" y="841.2" font-family="'Liberation Sans','Noto Sans CJK SC',sans-serif" font-size="35.4" font-weight="bold" text-anchor="start">D362N</text>
<text x="1252.3" y="900" font-family="'Liberation Sans','Noto Sans CJK SC',sans-serif" font-size="35.4" font-weight="bold" text-anchor="start">Q374H</text>
<text x="1252.3" y="958.7" font-family="'Liberation Sans','Noto Sans CJK SC',sans-serif" font-size="35.4" font-weight="bold" text-anchor="start">H456N</text>
<text x="1090" y="1023" font-family="'Liberation Sans','Noto Sans CJK SC',sans-serif" font-size="35.3" font-weight="bold" text-anchor="start">HER2</text>
<text x="1184" y="1007.7" font-family="'Liberation Serif','Noto Serif CJK SC',serif" font-size="24" font-weight="700" text-anchor="start">Ⅰ</text>
<text x="1210.5" y="1009.5" font-family="'Liberation Sans','Noto Sans CJK SC',sans-serif" font-size="24" font-weight="bold" text-anchor="start">-</text>
<text x="1217.5" y="1007.7" font-family="'Liberation Serif','Noto Serif CJK SC',serif" font-size="24" font-weight="700" text-anchor="start">Ⅳ</text>
<rect x="1026.35" y="1313.05" width="20.3" height="21.3" rx="1.5" fill="none" stroke="#0000c0" stroke-width="2.2"/>
<rect x="1025.25" y="1311.95" width="22.5" height="12.25" rx="1.5" fill="#0000c0"/>
<rect x="1536.63" y="1312.15" width="20.3" height="21.3" rx="1.5" fill="none" stroke="#0000c0" stroke-width="2.2"/>
<rect x="1535.53" y="1311.05" width="22.5" height="12.25" rx="1.5" fill="#0000c0"/>
<rect x="1489.59" y="1314.15" width="20.3" height="21.3" rx="1.5" fill="none" stroke="#0000c0" stroke-width="2.2"/>
<rect x="1488.49" y="1313.05" width="22.5" height="12.25" rx="1.5" fill="#0000c0"/>
<rect x="1442.54" y="1314.35" width="20.3" height="21.3" rx="1.5" fill="none" stroke="#0000c0" stroke-width="2.2"/>
<rect x="1441.44" y="1313.25" width="22.5" height="12.25" rx="1.5" fill="#0000c0"/>
<rect x="1395.5" y="1314.35" width="20.3" height="21.3" rx="1.5" fill="none" stroke="#0000c0" stroke-width="2.2"/>
<rect x="1394.4" y="1313.25" width="22.5" height="12.25" rx="1.5" fill="#0000c0"/>
<rect x="1348.45" y="1314.35" width="20.3" height="21.3" rx="1.5" fill="none" stroke="#0000c0" stroke-width="2.2"/>
<rect x="1347.35" y="1313.25" width="22.5" height="12.25" rx="1.5" fill="#0000c0"/>
<rect x="1301.41" y="1314.35" width="20.3" height="21.3" rx="1.5" fill="none" stroke="#0000c0" stroke-width="2.2"/>
<rect x="1300.31" y="1313.25" width="22.5" height="12.25" rx="1.5" fill="#0000c0"/>
<rect x="1254.37" y="1314.35" width="20.3" height="21.3" rx="1.5" fill="none" stroke="#0000c0" stroke-width="2.2"/>
<rect x="1253.27" y="1313.25" width="22.5" height="12.25" rx="1.5" fill="#0000c0"/>
<rect x="1207.32" y="1314.35" width="20.3" height="21.3" rx="1.5" fill="none" stroke="#0000c0" stroke-width="2.2"/>
<rect x="1206.22" y="1313.25" width="22.5" height="12.25" rx="1.5" fill="#0000c0"/>
<polygon points="1036.5,1313.45 1046.25,1333.95 1026.75,1333.95" fill="none" stroke="#000000" stroke-width="3" stroke-linejoin="miter"/>
<polygon points="1037,1313.45 1037,1333.95 1026.75,1333.95" fill="#000000"/>
<polygon points="1546.78,1312.55 1556.53,1333.05 1537.03,1333.05" fill="none" stroke="#000000" stroke-width="3" stroke-linejoin="miter"/>
<polygon points="1547.28,1312.55 1547.28,1333.05 1537.03,1333.05" fill="#000000"/>
<polygon points="1499.74,1314.55 1509.49,1335.05 1489.99,1335.05" fill="none" stroke="#000000" stroke-width="3" stroke-linejoin="miter"/>
<polygon points="1500.24,1314.55 1500.24,1335.05 1489.99,1335.05" fill="#000000"/>
<polygon points="1452.69,1314.75 1462.44,1335.25 1442.94,1335.25" fill="none" stroke="#000000" stroke-width="3" stroke-linejoin="miter"/>
<polygon points="1453.19,1314.75 1453.19,1335.25 1442.94,1335.25" fill="#000000"/>
<polygon points="1405.65,1314.75 1415.4,1335.25 1395.9,1335.25" fill="none" stroke="#000000" stroke-width="3" stroke-linejoin="miter"/>
<polygon points="1406.15,1314.75 1406.15,1335.25 1395.9,1335.25" fill="#000000"/>
<polygon points="1358.6,1314.75 1368.35,1335.25 1348.85,1335.25" fill="none" stroke="#000000" stroke-width="3" stroke-linejoin="miter"/>
<polygon points="1359.1,1314.75 1359.1,1335.25 1348.85,1335.25" fill="#000000"/>
<polygon points="1311.56,1314.75 1321.31,1335.25 1301.81,1335.25" fill="none" stroke="#000000" stroke-width="3" stroke-linejoin="miter"/>
<polygon points="1312.06,1314.75 1312.06,1335.25 1301.81,1335.25" fill="#000000"/>
<polygon points="1264.52,1314.75 1274.27,1335.25 1254.77,1335.25" fill="none" stroke="#000000" stroke-width="3" stroke-linejoin="miter"/>
<polygon points="1265.02,1314.75 1265.02,1335.25 1254.77,1335.25" fill="#000000"/>
<polygon points="1217.47,1314.75 1227.22,1335.25 1207.72,1335.25" fill="none" stroke="#000000" stroke-width="3" stroke-linejoin="miter"/>
<polygon points="1217.97,1314.75 1217.97,1335.25 1207.72,1335.25" fill="#000000"/>
<polygon points="1036.5,1333.8 1046.65,1313 1026.35,1313" fill="none" stroke="#008000" stroke-width="2.2" stroke-linejoin="miter"/>
<polygon points="1037,1333.8 1037,1313 1026.35,1313" fill="#008000"/>
<polygon points="1546.78,1332.9 1556.93,1312.1 1536.63,1312.1" fill="none" stroke="#008000" stroke-width="2.2" stroke-linejoin="miter"/>
<polygon points="1547.28,1332.9 1547.28,1312.1 1536.63,1312.1" fill="#008000"/>
<polygon points="1499.74,1334.9 1509.89,1314.1 1489.59,1314.1" fill="none" stroke="#008000" stroke-width="2.2" stroke-linejoin="miter"/>
<polygon points="1500.24,1334.9 1500.24,1314.1 1489.59,1314.1" fill="#008000"/>
<polygon points="1452.69,1335.1 1462.84,1314.3 1442.54,1314.3" fill="none" stroke="#008000" stroke-width="2.2" stroke-linejoin="miter"/>
<polygon points="1453.19,1335.1 1453.19,1314.3 1442.54,1314.3" fill="#008000"/>
<polygon points="1405.65,1335.1 1415.8,1314.3 1395.5,1314.3" fill="none" stroke="#008000" stroke-width="2.2" stroke-linejoin="miter"/>
<polygon points="1406.15,1335.1 1406.15,1314.3 1395.5,1314.3" fill="#008000"/>
<polygon points="1358.6,1335.1 1368.75,1314.3 1348.45,1314.3" fill="none" stroke="#008000" stroke-width="2.2" stroke-linejoin="miter"/>
<polygon points="1359.1,1335.1 1359.1,1314.3 1348.45,1314.3" fill="#008000"/>
<polygon points="1311.56,1335.1 1321.71,1314.3 1301.41,1314.3" fill="none" stroke="#008000" stroke-width="2.2" stroke-linejoin="miter"/>
<polygon points="1312.06,1335.1 1312.06,1314.3 1301.41,1314.3" fill="#008000"/>
<polygon points="1264.52,1335.1 1274.67,1314.3 1254.37,1314.3" fill="none" stroke="#008000" stroke-width="2.2" stroke-linejoin="miter"/>
<polygon points="1265.02,1335.1 1265.02,1314.3 1254.37,1314.3" fill="#008000"/>
<polygon points="1217.47,1335.1 1227.62,1314.3 1207.32,1314.3" fill="none" stroke="#008000" stroke-width="2.2" stroke-linejoin="miter"/>
<polygon points="1217.97,1335.1 1217.97,1314.3 1207.32,1314.3" fill="#008000"/>
<circle cx="1036.9" cy="1323.8" r="10.5" fill="#ff0000"/>
<circle cx="1546.78" cy="965.7" r="10.6" fill="#ff0000"/>
<circle cx="1499.74" cy="967.5" r="10.6" fill="#ff0000"/>
<circle cx="1452.69" cy="967.5" r="10.6" fill="#ff0000"/>
<circle cx="1405.65" cy="972.5" r="10.6" fill="#ff0000"/>
<circle cx="1358.6" cy="976.2" r="10.6" fill="#ff0000"/>
<circle cx="1311.56" cy="1030" r="10.6" fill="#ff0000"/>
<circle cx="1264.52" cy="1193.7" r="10.6" fill="#ff0000"/>
<circle cx="1217.47" cy="1278.7" r="10.6" fill="#ff0000"/>
<path d="M1049.7,1316.9 L1084.2,1317.6" fill="none" stroke="#ff0000" stroke-width="5" stroke-linecap="butt" stroke-linejoin="round" stroke-dasharray="20 4 10.5 4"/>
<path d="M1116,1315.78 L1118.69,1315.72 L1121.38,1315.67 L1124.08,1315.6 L1126.77,1315.53 L1129.46,1315.45 L1132.15,1315.37 L1134.85,1315.27 L1137.54,1315.16 L1140.23,1315.04 L1142.92,1314.9 L1145.62,1314.75 L1148.31,1314.58 L1151,1314.39 L1153.69,1314.18 L1156.39,1313.94 L1159.08,1313.68 L1161.77,1313.38 L1164.46,1313.06 L1167.16,1312.7 L1169.85,1312.29 L1172.54,1311.84 L1175.23,1311.34 L1177.92,1310.78 L1180.62,1310.16 L1183.31,1309.47 L1186,1308.7 L1188.69,1307.85 L1191.39,1306.9 L1194.08,1305.85 L1196.77,1304.68 L1199.46,1303.39 L1202.16,1301.96 L1204.85,1300.38 L1207.54,1298.63 L1210.23,1296.69 L1212.93,1294.56 L1215.62,1292.22 L1218.31,1289.64 L1221,1286.81 L1223.7,1283.71 L1226.39,1280.31 L1229.08,1276.61 L1231.77,1272.58 L1234.46,1268.2 L1237.16,1263.45 L1239.85,1258.33 L1242.54,1252.82 L1245.23,1246.9 L1247.93,1240.58 L1250.62,1233.86 L1253.31,1226.72 L1256,1219.2 L1258.7,1211.3 L1261.39,1203.04 L1264.08,1194.45 L1266.77,1185.57 L1269.47,1176.44 L1272.16,1167.11 L1274.85,1157.62 L1277.54,1148.03 L1280.24,1138.4 L1282.93,1128.79 L1285.62,1119.25 L1288.31,1109.84 L1291.01,1100.62 L1293.7,1091.63 L1296.39,1082.91 L1299.08,1074.5 L1301.77,1066.44 L1304.47,1058.75 L1307.16,1051.45 L1309.85,1044.54 L1312.54,1038.05 L1315.24,1031.96 L1317.93,1026.27 L1320.62,1020.98 L1323.31,1016.07 L1326.01,1011.54 L1328.7,1007.35 L1331.39,1003.51 L1334.08,999.98 L1336.78,996.76 L1339.47,993.81 L1342.16,991.13 L1344.85,988.68 L1347.55,986.46 L1350.24,984.44 L1352.93,982.62 L1355.62,980.96 L1358.31,979.47 L1361.01,978.12 L1363.7,976.9 L1366.39,975.8 L1369.08,974.81 L1371.78,973.91 L1374.47,973.11 L1377.16,972.39 L1379.85,971.74 L1382.55,971.15 L1385.24,970.63 L1387.93,970.15 L1390.62,969.73 L1393.32,969.35 L1396.01,969.01 L1398.7,968.7 L1401.39,968.42 L1404.09,968.18 L1406.78,967.96 L1409.47,967.76 L1412.16,967.58 L1414.85,967.42 L1417.55,967.28 L1420.24,967.15 L1422.93,967.03 L1425.62,966.93 L1428.32,966.84 L1431.01,966.75 L1433.7,966.68 L1436.39,966.61 L1439.09,966.55 L1441.78,966.5 L1444.47,966.45 L1447.16,966.41 L1449.86,966.37 L1452.55,966.34 L1455.24,966.31 L1457.93,966.28 L1460.63,966.25 L1463.32,966.23 L1466.01,966.21 L1468.7,966.19 L1471.39,966.18 L1474.09,966.16 L1476.78,966.15 L1479.47,966.14 L1482.16,966.13 L1484.86,966.12 L1487.55,966.11 L1490.24,966.1 L1492.93,966.1 L1495.63,966.09 L1498.32,966.09 L1501.01,966.08 L1503.7,966.08 L1506.4,966.07 L1509.09,966.07 L1511.78,966.07 L1514.47,966.06 L1517.17,966.06 L1519.86,966.06 L1522.55,966.06 L1525.24,966.06 L1527.93,966.05 L1530.63,966.05 L1533.32,966.05 L1536.01,966.05 L1538.7,966.05 L1541.4,966.05 L1544.09,966.05 L1546.78,966.05" fill="none" stroke="#ff0000" stroke-width="4.5" stroke-linecap="butt" stroke-linejoin="round" stroke-dasharray="16 5 7 5"/>
<path d="M1035.5,1323.4 L1089.8,1323.4" fill="none" stroke="#0000c0" stroke-width="5" stroke-linecap="butt" stroke-linejoin="round"/>
<path d="M1116,1323.4 L1499.74,1323.4 L1542.78,1319.8" fill="none" stroke="#0000c0" stroke-width="5" stroke-linecap="butt" stroke-linejoin="round"/>
<path d="M1035.5,1323.6 L1089.8,1323.6" fill="none" stroke="#000000" stroke-width="4.6" stroke-linecap="butt" stroke-linejoin="round"/>
<path d="M1116,1323.6 L1499.74,1323.6 L1542.78,1320" fill="none" stroke="#000000" stroke-width="4.6" stroke-linecap="butt" stroke-linejoin="round"/>
<path d="M1217.47,1323.4 L1358.6,1323.4" fill="none" stroke="#0000c0" stroke-width="5" stroke-linecap="butt" stroke-linejoin="round"/>
<path d="M1035.5,1325.6 L1089.8,1325.6" fill="none" stroke="#008000" stroke-width="5.6" stroke-linecap="butt" stroke-linejoin="round"/>
<path d="M1116,1325.6 L1499.74,1325.6 L1544.78,1324.2" fill="none" stroke="#008000" stroke-width="5.6" stroke-linecap="butt" stroke-linejoin="round"/>
<line x1="992.8" y1="899.1" x2="992.8" y2="1355.1" stroke="#000000" stroke-width="5.2" stroke-linecap="butt"/>
<line x1="976" y1="901.7" x2="992.8" y2="901.7" stroke="#000000" stroke-width="5.2" stroke-linecap="round"/>
<line x1="976" y1="1352.5" x2="992.8" y2="1352.5" stroke="#000000" stroke-width="5.2" stroke-linecap="round"/>
<line x1="977.5" y1="1324.2" x2="992.8" y2="1324.2" stroke="#000000" stroke-width="5.2" stroke-linecap="round"/>
<text x="971.3" y="1337" font-family="'Liberation Sans','Noto Sans CJK SC',sans-serif" font-size="35.5" font-weight="bold" text-anchor="end">0</text>
<line x1="977.5" y1="1203.2" x2="992.8" y2="1203.2" stroke="#000000" stroke-width="5.2" stroke-linecap="round"/>
<text x="971.3" y="1216" font-family="'Liberation Sans','Noto Sans CJK SC',sans-serif" font-size="35.5" font-weight="bold" text-anchor="end">1</text>
<line x1="977.5" y1="1082.2" x2="992.8" y2="1082.2" stroke="#000000" stroke-width="5.2" stroke-linecap="round"/>
<text x="971.3" y="1095" font-family="'Liberation Sans','Noto Sans CJK SC',sans-serif" font-size="35.5" font-weight="bold" text-anchor="end">2</text>
<line x1="977.5" y1="961.2" x2="992.8" y2="961.2" stroke="#000000" stroke-width="5.2" stroke-linecap="round"/>
<text x="971.3" y="974" font-family="'Liberation Sans','Noto Sans CJK SC',sans-serif" font-size="35.5" font-weight="bold" text-anchor="end">3</text>
<text transform="translate(928.5,1130.5) rotate(-90)" font-family="'Liberation Sans','Noto Sans CJK SC',sans-serif" font-size="36" font-weight="bold" text-anchor="middle">OD450</text>
<line x1="1033.7" y1="1404.7" x2="1087" y2="1404.7" stroke="#000000" stroke-width="5.2" stroke-linecap="butt"/>
<line x1="1036" y1="1404.7" x2="1036" y2="1420.7" stroke="#000000" stroke-width="4.6" stroke-linecap="round"/>
<line x1="1084.7" y1="1394.3" x2="1084.7" y2="1415.5" stroke="#000000" stroke-width="5.4" stroke-linecap="butt"/>
<line x1="1122.7" y1="1394.3" x2="1122.7" y2="1421.9" stroke="#000000" stroke-width="5.8" stroke-linecap="butt"/>
<line x1="1119.8" y1="1404.7" x2="1618.1" y2="1404.7" stroke="#000000" stroke-width="5.2" stroke-linecap="butt"/>
<line x1="1152.38" y1="1404.7" x2="1152.38" y2="1412.2" stroke="#000000" stroke-width="4.8" stroke-linecap="round"/>
<line x1="1169.74" y1="1404.7" x2="1169.74" y2="1412.2" stroke="#000000" stroke-width="4.8" stroke-linecap="round"/>
<line x1="1182.06" y1="1404.7" x2="1182.06" y2="1412.2" stroke="#000000" stroke-width="4.8" stroke-linecap="round"/>
<line x1="1191.62" y1="1404.7" x2="1191.62" y2="1412.2" stroke="#000000" stroke-width="4.8" stroke-linecap="round"/>
<line x1="1199.43" y1="1404.7" x2="1199.43" y2="1412.2" stroke="#000000" stroke-width="4.8" stroke-linecap="round"/>
<line x1="1206.03" y1="1404.7" x2="1206.03" y2="1412.2" stroke="#000000" stroke-width="4.8" stroke-linecap="round"/>
<line x1="1211.74" y1="1404.7" x2="1211.74" y2="1412.2" stroke="#000000" stroke-width="4.8" stroke-linecap="round"/>
<line x1="1216.79" y1="1404.7" x2="1216.79" y2="1412.2" stroke="#000000" stroke-width="4.8" stroke-linecap="round"/>
<line x1="1221.3" y1="1404.7" x2="1221.3" y2="1419.6" stroke="#000000" stroke-width="4.8" stroke-linecap="round"/>
<line x1="1250.98" y1="1404.7" x2="1250.98" y2="1412.2" stroke="#000000" stroke-width="4.8" stroke-linecap="round"/>
<line x1="1268.34" y1="1404.7" x2="1268.34" y2="1412.2" stroke="#000000" stroke-width="4.8" stroke-linecap="round"/>
<line x1="1280.66" y1="1404.7" x2="1280.66" y2="1412.2" stroke="#000000" stroke-width="4.8" stroke-linecap="round"/>
<line x1="1290.22" y1="1404.7" x2="1290.22" y2="1412.2" stroke="#000000" stroke-width="4.8" stroke-linecap="round"/>
<line x1="1298.03" y1="1404.7" x2="1298.03" y2="1412.2" stroke="#000000" stroke-width="4.8" stroke-linecap="round"/>
<line x1="1304.63" y1="1404.7" x2="1304.63" y2="1412.2" stroke="#000000" stroke-width="4.8" stroke-linecap="round"/>
<line x1="1310.34" y1="1404.7" x2="1310.34" y2="1412.2" stroke="#000000" stroke-width="4.8" stroke-linecap="round"/>
<line x1="1315.39" y1="1404.7" x2="1315.39" y2="1412.2" stroke="#000000" stroke-width="4.8" stroke-linecap="round"/>
<line x1="1319.9" y1="1404.7" x2="1319.9" y2="1419.6" stroke="#000000" stroke-width="4.8" stroke-linecap="round"/>
<line x1="1349.58" y1="1404.7" x2="1349.58" y2="1412.2" stroke="#000000" stroke-width="4.8" stroke-linecap="round"/>
<line x1="1366.94" y1="1404.7" x2="1366.94" y2="1412.2" stroke="#000000" stroke-width="4.8" stroke-linecap="round"/>
<line x1="1379.26" y1="1404.7" x2="1379.26" y2="1412.2" stroke="#000000" stroke-width="4.8" stroke-linecap="round"/>
<line x1="1388.82" y1="1404.7" x2="1388.82" y2="1412.2" stroke="#000000" stroke-width="4.8" stroke-linecap="round"/>
<line x1="1396.63" y1="1404.7" x2="1396.63" y2="1412.2" stroke="#000000" stroke-width="4.8" stroke-linecap="round"/>
<line x1="1403.23" y1="1404.7" x2="1403.23" y2="1412.2" stroke="#000000" stroke-width="4.8" stroke-linecap="round"/>
<line x1="1408.94" y1="1404.7" x2="1408.94" y2="1412.2" stroke="#000000" stroke-width="4.8" stroke-linecap="round"/>
<line x1="1413.99" y1="1404.7" x2="1413.99" y2="1412.2" stroke="#000000" stroke-width="4.8" stroke-linecap="round"/>
<line x1="1418.5" y1="1404.7" x2="1418.5" y2="1419.6" stroke="#000000" stroke-width="4.8" stroke-linecap="round"/>
<line x1="1448.18" y1="1404.7" x2="1448.18" y2="1412.2" stroke="#000000" stroke-width="4.8" stroke-linecap="round"/>
<line x1="1465.54" y1="1404.7" x2="1465.54" y2="1412.2" stroke="#000000" stroke-width="4.8" stroke-linecap="round"/>
<line x1="1477.86" y1="1404.7" x2="1477.86" y2="1412.2" stroke="#000000" stroke-width="4.8" stroke-linecap="round"/>
<line x1="1487.42" y1="1404.7" x2="1487.42" y2="1412.2" stroke="#000000" stroke-width="4.8" stroke-linecap="round"/>
<line x1="1495.23" y1="1404.7" x2="1495.23" y2="1412.2" stroke="#000000" stroke-width="4.8" stroke-linecap="round"/>
<line x1="1501.83" y1="1404.7" x2="1501.83" y2="1412.2" stroke="#000000" stroke-width="4.8" stroke-linecap="round"/>
<line x1="1507.54" y1="1404.7" x2="1507.54" y2="1412.2" stroke="#000000" stroke-width="4.8" stroke-linecap="round"/>
<line x1="1512.59" y1="1404.7" x2="1512.59" y2="1412.2" stroke="#000000" stroke-width="4.8" stroke-linecap="round"/>
<line x1="1517.1" y1="1404.7" x2="1517.1" y2="1419.6" stroke="#000000" stroke-width="4.8" stroke-linecap="round"/>
<line x1="1546.78" y1="1404.7" x2="1546.78" y2="1412.2" stroke="#000000" stroke-width="4.8" stroke-linecap="round"/>
<line x1="1564.14" y1="1404.7" x2="1564.14" y2="1412.2" stroke="#000000" stroke-width="4.8" stroke-linecap="round"/>
<line x1="1576.46" y1="1404.7" x2="1576.46" y2="1412.2" stroke="#000000" stroke-width="4.8" stroke-linecap="round"/>
<line x1="1586.02" y1="1404.7" x2="1586.02" y2="1412.2" stroke="#000000" stroke-width="4.8" stroke-linecap="round"/>
<line x1="1593.83" y1="1404.7" x2="1593.83" y2="1412.2" stroke="#000000" stroke-width="4.8" stroke-linecap="round"/>
<line x1="1600.43" y1="1404.7" x2="1600.43" y2="1412.2" stroke="#000000" stroke-width="4.8" stroke-linecap="round"/>
<line x1="1606.14" y1="1404.7" x2="1606.14" y2="1412.2" stroke="#000000" stroke-width="4.8" stroke-linecap="round"/>
<line x1="1611.19" y1="1404.7" x2="1611.19" y2="1412.2" stroke="#000000" stroke-width="4.8" stroke-linecap="round"/>
<line x1="1615.7" y1="1404.7" x2="1615.7" y2="1419.6" stroke="#000000" stroke-width="4.8" stroke-linecap="round"/>
<g transform="translate(1037.3,1461.4) scale(0.94,1)">
<text x="0" y="0" font-family="'Liberation Sans','Noto Sans CJK SC',sans-serif" font-size="41.5" font-weight="bold" text-anchor="middle">0</text>
</g>
<g transform="translate(1091.82,1457) scale(0.97,1)">
<text x="0" y="0" font-family="'Liberation Sans','Noto Sans CJK SC',sans-serif" font-size="36.5" font-weight="bold" text-anchor="start">10</text>
</g>
<g transform="translate(1134.19,1443) scale(0.97,1)">
<text x="0" y="0" font-family="'Liberation Sans','Noto Sans CJK SC',sans-serif" font-size="22.8" font-weight="bold" text-anchor="start">-1</text>
</g>
<g transform="translate(1194.22,1457) scale(0.97,1)">
<text x="0" y="0" font-family="'Liberation Sans','Noto Sans CJK SC',sans-serif" font-size="36.5" font-weight="bold" text-anchor="start">10</text>
</g>
<g transform="translate(1236.36,1443) scale(0.97,1)">
<text x="0" y="0" font-family="'Liberation Sans','Noto Sans CJK SC',sans-serif" font-size="22.8" font-weight="bold" text-anchor="start">0</text>
</g>
<g transform="translate(1292.82,1457) scale(0.97,1)">
<text x="0" y="0" font-family="'Liberation Sans','Noto Sans CJK SC',sans-serif" font-size="36.5" font-weight="bold" text-anchor="start">10</text>
</g>
<g transform="translate(1334.96,1443) scale(0.97,1)">
<text x="0" y="0" font-family="'Liberation Sans','Noto Sans CJK SC',sans-serif" font-size="22.8" font-weight="bold" text-anchor="start">1</text>
</g>
<g transform="translate(1391.42,1457) scale(0.97,1)">
<text x="0" y="0" font-family="'Liberation Sans','Noto Sans CJK SC',sans-serif" font-size="36.5" font-weight="bold" text-anchor="start">10</text>
</g>
<g transform="translate(1433.56,1443) scale(0.97,1)">
<text x="0" y="0" font-family="'Liberation Sans','Noto Sans CJK SC',sans-serif" font-size="22.8" font-weight="bold" text-anchor="start">2</text>
</g>
<g transform="translate(1490.02,1457) scale(0.97,1)">
<text x="0" y="0" font-family="'Liberation Sans','Noto Sans CJK SC',sans-serif" font-size="36.5" font-weight="bold" text-anchor="start">10</text>
</g>
<g transform="translate(1532.16,1443) scale(0.97,1)">
<text x="0" y="0" font-family="'Liberation Sans','Noto Sans CJK SC',sans-serif" font-size="22.8" font-weight="bold" text-anchor="start">3</text>
</g>
<g transform="translate(1588.62,1457) scale(0.97,1)">
<text x="0" y="0" font-family="'Liberation Sans','Noto Sans CJK SC',sans-serif" font-size="36.5" font-weight="bold" text-anchor="start">10</text>
</g>
<g transform="translate(1630.76,1443) scale(0.97,1)">
<text x="0" y="0" font-family="'Liberation Sans','Noto Sans CJK SC',sans-serif" font-size="22.8" font-weight="bold" text-anchor="start">4</text>
</g>
<text x="1326.5" y="1509" font-family="'Liberation Sans','Noto Sans CJK SC',sans-serif" font-size="35.6" font-weight="bold" text-anchor="middle">GB235 (ng/mL)</text>
</g>
</svg>
</body>
</html>
